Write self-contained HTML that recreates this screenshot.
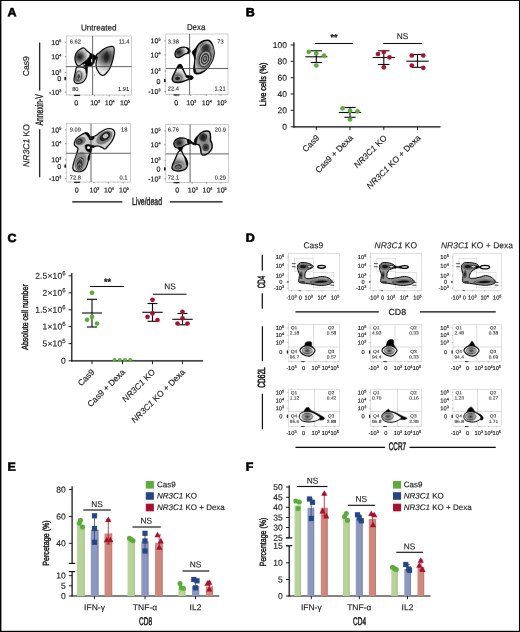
<!DOCTYPE html>
<html lang="en">
<head>
<meta charset="utf-8">
<title>Figure</title>
<style>
html,body{margin:0;padding:0;background:#fff;}
body{width:520px;height:632px;overflow:hidden;position:relative;}
svg{display:block;position:absolute;left:0;top:0;font-family:"Liberation Sans",sans-serif;}
</style>
</head>
<body>
<svg width="520" height="632" viewBox="0 0 520 632">
<rect x="0" y="0" width="520" height="632" fill="#fff"/>
<defs><filter id="soft" x="0" y="0" width="520" height="632" filterUnits="userSpaceOnUse" color-interpolation-filters="sRGB"><feConvolveMatrix order="3" kernelMatrix="0.0009 0.0278 0.0009 0.0278 0.8855 0.0278 0.0009 0.0278 0.0009" divisor="1" edgeMode="duplicate"/></filter></defs>
<g filter="url(#soft)">
<rect x="294.70" y="258.20" width="18.94" height="13.3" fill="none" stroke="#bcbcbc" stroke-width="0.45"/>
<rect x="313.13" y="272.50" width="20.74" height="15.4" fill="none" stroke="#bcbcbc" stroke-width="0.45"/>
<line x1="313.5" y1="324.2" x2="313.5" y2="361.3" stroke="#c2c2c2" stroke-width="0.6"/>
<line x1="288.3" y1="347" x2="339.5" y2="347" stroke="#c2c2c2" stroke-width="0.6"/>
<line x1="314.5" y1="389.2" x2="314.5" y2="426.2" stroke="#c2c2c2" stroke-width="0.6"/>
<line x1="288.3" y1="411.5" x2="339.5" y2="411.5" stroke="#c2c2c2" stroke-width="0.6"/>
<rect x="376.91" y="258.20" width="18.98" height="13.3" fill="none" stroke="#bcbcbc" stroke-width="0.45"/>
<rect x="395.38" y="272.50" width="20.78" height="15.4" fill="none" stroke="#bcbcbc" stroke-width="0.45"/>
<line x1="395" y1="324.2" x2="395" y2="361.3" stroke="#c2c2c2" stroke-width="0.6"/>
<line x1="370.5" y1="347" x2="421.8" y2="347" stroke="#c2c2c2" stroke-width="0.6"/>
<line x1="397.5" y1="389.2" x2="397.5" y2="426.2" stroke="#c2c2c2" stroke-width="0.6"/>
<line x1="370.5" y1="411.5" x2="421.8" y2="411.5" stroke="#c2c2c2" stroke-width="0.6"/>
<rect x="459.04" y="258.20" width="17.87" height="13.3" fill="none" stroke="#bcbcbc" stroke-width="0.45"/>
<rect x="476.43" y="272.50" width="19.56" height="15.4" fill="none" stroke="#bcbcbc" stroke-width="0.45"/>
<line x1="476.8" y1="324.2" x2="476.8" y2="361.3" stroke="#c2c2c2" stroke-width="0.6"/>
<line x1="453" y1="347" x2="501.3" y2="347" stroke="#c2c2c2" stroke-width="0.6"/>
<line x1="477.5" y1="389.2" x2="477.5" y2="426.2" stroke="#c2c2c2" stroke-width="0.6"/>
<line x1="453" y1="411.5" x2="501.3" y2="411.5" stroke="#c2c2c2" stroke-width="0.6"/>
<defs><filter id="bl" x="-5%" y="-5%" width="110%" height="110%"><feGaussianBlur stdDeviation="0.3"/></filter><radialGradient id="g1" gradientUnits="userSpaceOnUse" cx="79.50" cy="56.80" r="9.50"><stop offset="0" stop-color="#141414"/><stop offset="0.25" stop-color="#3c3c3c"/><stop offset="0.5" stop-color="#7c7c7c"/><stop offset="0.75" stop-color="#c0c0c0"/><stop offset="1" stop-color="#ececec"/></radialGradient><radialGradient id="g2" gradientUnits="userSpaceOnUse" cx="106.50" cy="57.00" r="15.00"><stop offset="0" stop-color="#1a1a1a"/><stop offset="0.2" stop-color="#3e3e3e"/><stop offset="0.45" stop-color="#7a7a7a"/><stop offset="0.7" stop-color="#bcbcbc"/><stop offset="1" stop-color="#ebebeb"/></radialGradient><radialGradient id="g3" gradientUnits="userSpaceOnUse" cx="78.50" cy="77.00" r="8.50"><stop offset="0" stop-color="#444"/><stop offset="0.3" stop-color="#7a7a7a"/><stop offset="0.6" stop-color="#b8b8b8"/><stop offset="1" stop-color="#ececec"/></radialGradient><radialGradient id="g4" gradientUnits="userSpaceOnUse" cx="179.00" cy="52.20" r="8.00"><stop offset="0" stop-color="#141414"/><stop offset="0.25" stop-color="#3c3c3c"/><stop offset="0.5" stop-color="#7c7c7c"/><stop offset="0.75" stop-color="#c0c0c0"/><stop offset="1" stop-color="#ececec"/></radialGradient><radialGradient id="g5" gradientUnits="userSpaceOnUse" cx="205.00" cy="58.00" r="20.00"><stop offset="0" stop-color="#505050"/><stop offset="0.3" stop-color="#727272"/><stop offset="0.6" stop-color="#9c9c9c"/><stop offset="1" stop-color="#d4d4d4"/></radialGradient><radialGradient id="g6" gradientUnits="userSpaceOnUse" cx="177.50" cy="78.50" r="9.50"><stop offset="0" stop-color="#141414"/><stop offset="0.2" stop-color="#404040"/><stop offset="0.45" stop-color="#808080"/><stop offset="0.7" stop-color="#c4c4c4"/><stop offset="1" stop-color="#f0f0f0"/></radialGradient><radialGradient id="g7" gradientUnits="userSpaceOnUse" cx="92.00" cy="148.00" r="30.00"><stop offset="0" stop-color="#c4c4c4"/><stop offset="1" stop-color="#dedede"/></radialGradient><radialGradient id="g8" gradientUnits="userSpaceOnUse" cx="179.00" cy="142.70" r="9.00"><stop offset="0" stop-color="#141414"/><stop offset="0.25" stop-color="#3c3c3c"/><stop offset="0.5" stop-color="#7c7c7c"/><stop offset="0.75" stop-color="#c0c0c0"/><stop offset="1" stop-color="#ececec"/></radialGradient><radialGradient id="g9" gradientUnits="userSpaceOnUse" cx="204.50" cy="142.00" r="15.00"><stop offset="0" stop-color="#7c7c7c"/><stop offset="0.4" stop-color="#9c9c9c"/><stop offset="0.8" stop-color="#d2d2d2"/><stop offset="1" stop-color="#eeeeee"/></radialGradient><radialGradient id="g10" gradientUnits="userSpaceOnUse" cx="178.00" cy="166.50" r="12.00"><stop offset="0" stop-color="#202020"/><stop offset="0.2" stop-color="#4a4a4a"/><stop offset="0.45" stop-color="#808080"/><stop offset="0.7" stop-color="#c4c4c4"/><stop offset="1" stop-color="#eeeeee"/></radialGradient><radialGradient id="g11" gradientUnits="userSpaceOnUse" cx="310.77" cy="274.69" r="21.54"><stop offset="0" stop-color="#8c8c8c"/><stop offset="1" stop-color="#a5a5a5"/></radialGradient><radialGradient id="g12" gradientUnits="userSpaceOnUse" cx="392.77" cy="274.69" r="21.54"><stop offset="0" stop-color="#8c8c8c"/><stop offset="1" stop-color="#a5a5a5"/></radialGradient><radialGradient id="g13" gradientUnits="userSpaceOnUse" cx="474.77" cy="274.69" r="21.54"><stop offset="0" stop-color="#8c8c8c"/><stop offset="1" stop-color="#a5a5a5"/></radialGradient><radialGradient id="g14" gradientUnits="userSpaceOnUse" cx="307.31" cy="350.71" r="8.35"><stop offset="0" stop-color="#3a3a3a"/><stop offset="0.3" stop-color="#707070"/><stop offset="0.5" stop-color="#b5b5b5"/><stop offset="0.68" stop-color="#f2f2f2"/><stop offset="1" stop-color="#fff"/></radialGradient><radialGradient id="g15" gradientUnits="userSpaceOnUse" cx="389.31" cy="350.71" r="8.35"><stop offset="0" stop-color="#3a3a3a"/><stop offset="0.3" stop-color="#707070"/><stop offset="0.5" stop-color="#b5b5b5"/><stop offset="0.68" stop-color="#f2f2f2"/><stop offset="1" stop-color="#fff"/></radialGradient><radialGradient id="g16" gradientUnits="userSpaceOnUse" cx="471.31" cy="350.71" r="8.35"><stop offset="0" stop-color="#3a3a3a"/><stop offset="0.3" stop-color="#707070"/><stop offset="0.5" stop-color="#b5b5b5"/><stop offset="0.68" stop-color="#f2f2f2"/><stop offset="1" stop-color="#fff"/></radialGradient><radialGradient id="g17" gradientUnits="userSpaceOnUse" cx="307.31" cy="416.65" r="10.10"><stop offset="0" stop-color="#3a3a3a"/><stop offset="0.25" stop-color="#707070"/><stop offset="0.45" stop-color="#b5b5b5"/><stop offset="0.62" stop-color="#f2f2f2"/><stop offset="1" stop-color="#fff"/></radialGradient><radialGradient id="g18" gradientUnits="userSpaceOnUse" cx="387.96" cy="416.38" r="10.10"><stop offset="0" stop-color="#3a3a3a"/><stop offset="0.25" stop-color="#707070"/><stop offset="0.45" stop-color="#b5b5b5"/><stop offset="0.62" stop-color="#f2f2f2"/><stop offset="1" stop-color="#fff"/></radialGradient><radialGradient id="g19" gradientUnits="userSpaceOnUse" cx="470.63" cy="416.65" r="10.10"><stop offset="0" stop-color="#3a3a3a"/><stop offset="0.25" stop-color="#707070"/><stop offset="0.45" stop-color="#b5b5b5"/><stop offset="0.62" stop-color="#f2f2f2"/><stop offset="1" stop-color="#fff"/></radialGradient></defs>
<g filter="url(#bl)">
<path d="M75.00 57.00C75.17 55.42 75.58 53.83 76.50 52.50C77.42 51.17 79.25 49.75 80.50 49.00C81.75 48.25 83.00 47.75 84.00 48.00C85.00 48.25 85.58 49.67 86.50 50.50C87.42 51.33 88.58 52.25 89.50 53.00C90.42 53.75 91.83 54.00 92.00 55.00C92.17 56.00 91.33 57.92 90.50 59.00C89.67 60.08 88.25 60.80 87.00 61.50C85.75 62.20 84.17 62.53 83.00 63.20C81.83 63.87 80.92 65.12 80.00 65.50C79.08 65.88 78.25 66.08 77.50 65.50C76.75 64.92 75.92 63.42 75.50 62.00C75.08 60.58 74.83 58.58 75.00 57.00Z" fill="url(#g1)" stroke="#000" stroke-width="1.15" stroke-linejoin="round"/>
<path d="M96.50 55.00C96.83 54.08 97.92 53.92 99.00 53.00C100.08 52.08 101.50 50.50 103.00 49.50C104.50 48.50 106.33 47.50 108.00 47.00C109.67 46.50 111.97 46.17 113.00 46.50C114.03 46.83 114.03 47.75 114.20 49.00C114.37 50.25 114.28 52.00 114.00 54.00C113.72 56.00 113.17 58.67 112.50 61.00C111.83 63.33 111.00 66.00 110.00 68.00C109.00 70.00 107.67 71.75 106.50 73.00C105.33 74.25 104.08 75.33 103.00 75.50C101.92 75.67 100.83 74.75 100.00 74.00C99.17 73.25 98.58 72.00 98.00 71.00C97.42 70.00 96.83 69.17 96.50 68.00C96.17 66.83 96.00 65.17 96.00 64.00C96.00 62.83 96.33 61.92 96.50 61.00C96.67 60.08 97.00 59.50 97.00 58.50C97.00 57.50 96.17 55.92 96.50 55.00Z" fill="url(#g2)" stroke="#000" stroke-width="1.15" stroke-linejoin="round"/>
<ellipse cx="106.50" cy="57.00" rx="2.20" ry="6.00" fill="#1a1a1a" opacity="0.55" transform="rotate(5 106.50 57.00)"/>
<path d="M76.50 67.50C77.25 66.75 78.75 66.95 80.00 67.00C81.25 67.05 82.92 67.30 84.00 67.80C85.08 68.30 86.03 68.80 86.50 70.00C86.97 71.20 86.97 73.50 86.80 75.00C86.63 76.50 86.13 77.83 85.50 79.00C84.87 80.17 84.08 81.25 83.00 82.00C81.92 82.75 80.25 83.33 79.00 83.50C77.75 83.67 76.33 83.50 75.50 83.00C74.67 82.50 74.17 81.67 74.00 80.50C73.83 79.33 74.25 77.50 74.50 76.00C74.75 74.50 75.17 72.92 75.50 71.50C75.83 70.08 75.75 68.25 76.50 67.50Z" fill="url(#g3)" stroke="#000" stroke-width="1.15" stroke-linejoin="round"/>
<ellipse cx="78.70" cy="76.00" rx="2.80" ry="5.00" fill="none" stroke="#222" stroke-width="0.6" transform="rotate(5 78.70 76.00)"/>
<ellipse cx="78.70" cy="76.20" rx="1.70" ry="3.40" fill="none" stroke="#eee" stroke-width="0.45" transform="rotate(5 78.70 76.20)"/>
<ellipse cx="78.70" cy="76.50" rx="0.80" ry="1.80" fill="none" stroke="#222" stroke-width="0.55" transform="rotate(5 78.70 76.50)"/>
<ellipse cx="77.50" cy="80.50" rx="2.20" ry="1.80" fill="#555" opacity="0.6" transform="rotate(0 77.50 80.50)"/>
<path d="M83.00 63.50C83.30 62.55 84.97 61.58 86.00 60.50C87.03 59.42 88.45 58.12 89.20 57.00C89.95 55.88 89.70 54.13 90.50 53.80C91.30 53.47 92.80 54.43 94.00 55.00C95.20 55.57 97.28 56.57 97.70 57.20C98.12 57.83 96.95 58.30 96.50 58.80C96.05 59.30 95.45 59.42 95.00 60.20C94.55 60.98 94.43 62.58 93.80 63.50C93.17 64.42 92.22 65.25 91.20 65.70C90.18 66.15 88.45 65.78 87.70 66.20C86.95 66.62 87.28 68.20 86.70 68.20C86.12 68.20 84.82 66.98 84.20 66.20C83.58 65.42 82.70 64.45 83.00 63.50Z" fill="#000" stroke="#000" stroke-width="0.6" stroke-linejoin="round"/>
<ellipse cx="91.70" cy="60.60" rx="0.70" ry="1.90" fill="#fff" opacity="1" transform="rotate(0 91.70 60.60)"/>
<ellipse cx="84.30" cy="64.60" rx="0.90" ry="0.60" fill="#eee" opacity="1" transform="rotate(-35 84.30 64.60)"/>
<path d="M85.50 67.00C85.78 66.25 87.22 65.83 87.50 66.50C87.78 67.17 87.37 69.75 87.20 71.00C87.03 72.25 86.73 74.00 86.50 74.00C86.27 74.00 85.97 72.17 85.80 71.00C85.63 69.83 85.22 67.75 85.50 67.00Z" fill="#000" stroke="#000" stroke-width="0.6" stroke-linejoin="round"/>
<circle cx="94.50" cy="75.00" r="0.45" fill="#000"/>
<path d="M175.00 54.50C175.00 53.42 175.25 51.58 176.00 50.50C176.75 49.42 178.17 48.55 179.50 48.00C180.83 47.45 182.58 47.12 184.00 47.20C185.42 47.28 187.03 47.87 188.00 48.50C188.97 49.13 189.72 50.25 189.80 51.00C189.88 51.75 189.30 52.50 188.50 53.00C187.70 53.50 186.08 53.50 185.00 54.00C183.92 54.50 183.00 55.42 182.00 56.00C181.00 56.58 180.00 57.33 179.00 57.50C178.00 57.67 176.67 57.50 176.00 57.00C175.33 56.50 175.00 55.58 175.00 54.50Z" fill="url(#g4)" stroke="#000" stroke-width="1.3" stroke-linejoin="round"/>
<path d="M186.50 47.80C186.67 47.47 188.58 48.23 189.20 48.80C189.82 49.37 190.27 50.47 190.20 51.20C190.13 51.93 189.30 52.90 188.80 53.20C188.30 53.50 187.30 53.40 187.20 53.00C187.10 52.60 188.32 51.67 188.20 50.80C188.08 49.93 186.33 48.13 186.50 47.80Z" fill="#000" stroke="#000" stroke-width="0.6" stroke-linejoin="round"/>
<path d="M193.00 52.00C193.25 50.92 195.00 49.83 196.00 48.50C197.00 47.17 197.67 45.28 199.00 44.00C200.33 42.72 202.33 41.38 204.00 40.80C205.67 40.22 207.67 39.97 209.00 40.50C210.33 41.03 211.25 42.58 212.00 44.00C212.75 45.42 213.17 47.33 213.50 49.00C213.83 50.67 214.17 52.17 214.00 54.00C213.83 55.83 213.33 58.00 212.50 60.00C211.67 62.00 210.42 64.17 209.00 66.00C207.58 67.83 205.67 69.75 204.00 71.00C202.33 72.25 200.50 73.17 199.00 73.50C197.50 73.83 195.83 73.75 195.00 73.00C194.17 72.25 194.08 70.50 194.00 69.00C193.92 67.50 194.33 65.67 194.50 64.00C194.67 62.33 195.00 60.50 195.00 59.00C195.00 57.50 194.83 56.17 194.50 55.00C194.17 53.83 192.75 53.08 193.00 52.00Z" fill="url(#g5)" stroke="#000" stroke-width="1.6" stroke-linejoin="round"/>
<ellipse cx="205.50" cy="47.50" rx="5.50" ry="5.00" fill="#111" opacity="0.45" transform="rotate(20 205.50 47.50)"/>
<ellipse cx="205.50" cy="47.00" rx="3.20" ry="3.00" fill="#000" opacity="0.45" transform="rotate(20 205.50 47.00)"/>
<ellipse cx="204.50" cy="57.00" rx="8.00" ry="14.50" fill="none" stroke="#f4f4f4" stroke-width="0.5" transform="rotate(20 204.50 57.00)"/>
<ellipse cx="205.00" cy="58.50" rx="5.60" ry="8.80" fill="none" stroke="#111" stroke-width="0.7" transform="rotate(18 205.00 58.50)"/>
<ellipse cx="205.00" cy="58.80" rx="4.50" ry="6.80" fill="none" stroke="#f0f0f0" stroke-width="0.5" transform="rotate(18 205.00 58.80)"/>
<ellipse cx="205.00" cy="59.00" rx="3.50" ry="5.20" fill="none" stroke="#111" stroke-width="0.7" transform="rotate(18 205.00 59.00)"/>
<ellipse cx="205.00" cy="59.00" rx="2.50" ry="3.70" fill="none" stroke="#e5e5e5" stroke-width="0.45" transform="rotate(18 205.00 59.00)"/>
<ellipse cx="205.00" cy="58.80" rx="1.60" ry="2.40" fill="none" stroke="#111" stroke-width="0.6" transform="rotate(18 205.00 58.80)"/>
<ellipse cx="205.00" cy="58.60" rx="0.70" ry="1.10" fill="#666" stroke="#ccc" stroke-width="0.4" transform="rotate(18 205.00 58.60)"/>
<path d="M192.20 52.20C192.32 51.17 193.78 50.42 194.50 49.80C195.22 49.18 196.25 48.13 196.50 48.50C196.75 48.87 196.22 50.83 196.00 52.00C195.78 53.17 195.37 54.25 195.20 55.50C195.03 56.75 195.23 59.42 195.00 59.50C194.77 59.58 194.27 57.22 193.80 56.00C193.33 54.78 192.08 53.23 192.20 52.20Z" fill="#000" stroke="#000" stroke-width="0.6" stroke-linejoin="round"/>
<path d="M194.00 68.00C194.17 67.42 194.87 68.25 195.20 69.00C195.53 69.75 195.37 71.80 196.00 72.50C196.63 73.20 199.00 72.98 199.00 73.20C199.00 73.42 196.80 73.92 196.00 73.80C195.20 73.68 194.53 73.47 194.20 72.50C193.87 71.53 193.83 68.58 194.00 68.00Z" fill="#000" stroke="#000" stroke-width="0.6" stroke-linejoin="round"/>
<path d="M179.00 65.00C179.67 64.50 180.42 64.50 181.00 65.00C181.58 65.50 181.92 66.75 182.50 68.00C183.08 69.25 183.83 71.20 184.50 72.50C185.17 73.80 185.42 75.18 186.50 75.80C187.58 76.42 189.95 75.92 191.00 76.20C192.05 76.48 192.72 77.03 192.80 77.50C192.88 77.97 192.38 78.62 191.50 79.00C190.62 79.38 188.92 79.38 187.50 79.80C186.08 80.22 184.58 81.05 183.00 81.50C181.42 81.95 179.50 82.42 178.00 82.50C176.50 82.58 174.97 82.50 174.00 82.00C173.03 81.50 172.37 80.50 172.20 79.50C172.03 78.50 172.53 77.25 173.00 76.00C173.47 74.75 174.33 73.33 175.00 72.00C175.67 70.67 176.33 69.17 177.00 68.00C177.67 66.83 178.33 65.50 179.00 65.00Z" fill="url(#g6)" stroke="#000" stroke-width="1.4" stroke-linejoin="round"/>
<path d="M177.80 66.50C177.88 65.83 178.43 64.78 179.00 64.50C179.57 64.22 180.62 64.30 181.20 64.80C181.78 65.30 182.12 66.55 182.50 67.50C182.88 68.45 183.58 70.25 183.50 70.50C183.42 70.75 182.58 69.50 182.00 69.00C181.42 68.50 180.58 67.58 180.00 67.50C179.42 67.42 178.87 68.67 178.50 68.50C178.13 68.33 177.72 67.17 177.80 66.50Z" fill="#000" stroke="#000" stroke-width="0.6" stroke-linejoin="round"/>
<path d="M186.00 75.80C186.75 75.55 189.83 75.72 191.00 76.00C192.17 76.28 192.92 76.97 193.00 77.50C193.08 78.03 192.25 79.03 191.50 79.20C190.75 79.37 189.33 78.78 188.50 78.50C187.67 78.22 186.92 77.95 186.50 77.50C186.08 77.05 185.25 76.05 186.00 75.80Z" fill="#000" stroke="#000" stroke-width="0.6" stroke-linejoin="round"/>
<ellipse cx="177.50" cy="78.50" rx="3.20" ry="2.40" fill="none" stroke="#ddd" stroke-width="0.45" transform="rotate(0 177.50 78.50)"/>
<ellipse cx="177.50" cy="78.50" rx="1.80" ry="1.30" fill="none" stroke="#222" stroke-width="0.45" transform="rotate(0 177.50 78.50)"/>
<path d="M74.50 142.50C74.83 141.42 75.42 139.75 76.50 138.50C77.58 137.25 79.50 135.95 81.00 135.00C82.50 134.05 84.33 133.05 85.50 132.80C86.67 132.55 87.33 132.97 88.00 133.50C88.67 134.03 88.83 135.42 89.50 136.00C90.17 136.58 90.92 137.08 92.00 137.00C93.08 136.92 94.67 136.25 96.00 135.50C97.33 134.75 98.50 133.50 100.00 132.50C101.50 131.50 103.33 130.17 105.00 129.50C106.67 128.83 108.58 128.42 110.00 128.50C111.42 128.58 112.70 129.17 113.50 130.00C114.30 130.83 114.80 132.17 114.80 133.50C114.80 134.83 114.13 136.50 113.50 138.00C112.87 139.50 112.00 141.08 111.00 142.50C110.00 143.92 108.50 145.42 107.50 146.50C106.50 147.58 105.92 148.83 105.00 149.00C104.08 149.17 103.17 148.00 102.00 147.50C100.83 147.00 99.33 146.17 98.00 146.00C96.67 145.83 95.08 146.33 94.00 146.50C92.92 146.67 92.03 146.17 91.50 147.00C90.97 147.83 91.13 150.17 90.80 151.50C90.47 152.83 89.88 153.58 89.50 155.00C89.12 156.42 88.92 158.33 88.50 160.00C88.08 161.67 87.58 163.50 87.00 165.00C86.42 166.50 86.00 167.92 85.00 169.00C84.00 170.08 82.42 171.08 81.00 171.50C79.58 171.92 77.75 171.75 76.50 171.50C75.25 171.25 74.12 170.75 73.50 170.00C72.88 169.25 72.72 168.33 72.80 167.00C72.88 165.67 73.47 163.83 74.00 162.00C74.53 160.17 75.42 157.83 76.00 156.00C76.58 154.17 77.17 152.25 77.50 151.00C77.83 149.75 78.25 149.25 78.00 148.50C77.75 147.75 76.58 147.08 76.00 146.50C75.42 145.92 74.75 145.67 74.50 145.00C74.25 144.33 74.17 143.58 74.50 142.50Z" fill="url(#g7)" stroke="#000" stroke-width="1.2" stroke-linejoin="round"/>
<ellipse cx="80.50" cy="141.00" rx="5.50" ry="4.00" fill="#6a6a6a" opacity="0.85" transform="rotate(-25 80.50 141.00)"/>
<ellipse cx="79.40" cy="141.50" rx="3.40" ry="2.60" fill="#1c1c1c" opacity="0.85" transform="rotate(-25 79.40 141.50)"/>
<ellipse cx="78.80" cy="141.80" rx="1.50" ry="1.20" fill="#111" stroke="#e8e8e8" stroke-width="0.45" transform="rotate(0 78.80 141.80)"/>
<ellipse cx="104.50" cy="137.50" rx="9.20" ry="5.60" fill="#6a6a6a" opacity="0.8" transform="rotate(-35 104.50 137.50)"/>
<ellipse cx="105.00" cy="136.50" rx="6.00" ry="3.80" fill="#141414" opacity="0.85" transform="rotate(-35 105.00 136.50)"/>
<ellipse cx="105.50" cy="136.00" rx="2.50" ry="1.70" fill="#b8b8b8" stroke="#f4f4f4" stroke-width="0.6" transform="rotate(-30 105.50 136.00)"/>
<ellipse cx="80.50" cy="161.50" rx="5.80" ry="10.00" fill="#7a7a7a" opacity="0.75" transform="rotate(12 80.50 161.50)"/>
<ellipse cx="79.80" cy="164.00" rx="4.20" ry="7.20" fill="#2a2a2a" opacity="0.75" transform="rotate(12 79.80 164.00)"/>
<ellipse cx="79.70" cy="164.50" rx="3.40" ry="5.80" fill="none" stroke="#f0f0f0" stroke-width="0.5" transform="rotate(10 79.70 164.50)"/>
<ellipse cx="79.60" cy="165.50" rx="2.40" ry="4.00" fill="none" stroke="#111" stroke-width="0.5" transform="rotate(8 79.60 165.50)"/>
<ellipse cx="79.50" cy="166.20" rx="1.50" ry="2.40" fill="none" stroke="#e5e5e5" stroke-width="0.45" transform="rotate(5 79.50 166.20)"/>
<ellipse cx="79.40" cy="166.80" rx="0.70" ry="1.00" fill="none" stroke="#111" stroke-width="0.45" transform="rotate(0 79.40 166.80)"/>
<path d="M85.00 132.80C85.25 132.50 87.20 132.67 88.00 133.20C88.80 133.73 89.13 135.33 89.80 136.00C90.47 136.67 91.27 137.07 92.00 137.20C92.73 137.33 93.95 136.50 94.20 136.80C94.45 137.10 93.95 138.47 93.50 139.00C93.05 139.53 92.17 139.92 91.50 140.00C90.83 140.08 90.00 140.00 89.50 139.50C89.00 139.00 89.00 137.75 88.50 137.00C88.00 136.25 87.08 135.70 86.50 135.00C85.92 134.30 84.75 133.10 85.00 132.80Z" fill="#000" stroke="#000" stroke-width="0.6" stroke-linejoin="round"/>
<path d="M85.20 145.50C85.53 144.67 86.95 144.55 88.00 144.50C89.05 144.45 90.42 144.95 91.50 145.20C92.58 145.45 94.08 145.62 94.50 146.00C94.92 146.38 94.45 147.20 94.00 147.50C93.55 147.80 92.20 147.30 91.80 147.80C91.40 148.30 91.87 149.77 91.60 150.50C91.33 151.23 90.80 152.03 90.20 152.20C89.60 152.37 88.70 151.95 88.00 151.50C87.30 151.05 86.47 150.50 86.00 149.50C85.53 148.50 84.87 146.33 85.20 145.50Z" fill="#000" stroke="#000" stroke-width="0.6" stroke-linejoin="round"/>
<ellipse cx="88.50" cy="147.70" rx="1.50" ry="1.40" fill="#fff" opacity="1" transform="rotate(0 88.50 147.70)"/>
<path d="M88.50 156.00C88.83 155.25 89.63 154.00 89.80 154.50C89.97 155.00 89.72 157.92 89.50 159.00C89.28 160.08 88.78 161.00 88.50 161.00C88.22 161.00 87.80 159.83 87.80 159.00C87.80 158.17 88.17 156.75 88.50 156.00Z" fill="#000" stroke="#000" stroke-width="0.6" stroke-linejoin="round"/>
<path d="M174.00 142.50C174.30 141.50 175.00 140.25 176.00 139.50C177.00 138.75 178.67 138.22 180.00 138.00C181.33 137.78 182.75 137.95 184.00 138.20C185.25 138.45 186.42 139.03 187.50 139.50C188.58 139.97 189.92 140.50 190.50 141.00C191.08 141.50 191.33 142.00 191.00 142.50C190.67 143.00 189.42 143.58 188.50 144.00C187.58 144.42 186.50 144.50 185.50 145.00C184.50 145.50 183.50 146.47 182.50 147.00C181.50 147.53 180.58 148.12 179.50 148.20C178.42 148.28 176.88 147.95 176.00 147.50C175.12 147.05 174.53 146.33 174.20 145.50C173.87 144.67 173.70 143.50 174.00 142.50Z" fill="url(#g8)" stroke="#000" stroke-width="1.3" stroke-linejoin="round"/>
<path d="M187.50 139.50C188.00 139.22 189.58 140.30 190.50 140.80C191.42 141.30 192.08 142.05 193.00 142.50C193.92 142.95 195.50 143.08 196.00 143.50C196.50 143.92 196.50 144.83 196.00 145.00C195.50 145.17 193.83 144.80 193.00 144.50C192.17 144.20 191.75 143.25 191.00 143.20C190.25 143.15 189.08 144.32 188.50 144.20C187.92 144.08 187.67 143.28 187.50 142.50C187.33 141.72 187.00 139.78 187.50 139.50Z" fill="#000" stroke="#000" stroke-width="0.6" stroke-linejoin="round"/>
<path d="M195.50 139.00C196.00 138.08 197.00 137.08 198.00 136.00C199.00 134.92 200.17 133.33 201.50 132.50C202.83 131.67 204.67 131.08 206.00 131.00C207.33 130.92 208.75 131.17 209.50 132.00C210.25 132.83 210.33 134.67 210.50 136.00C210.67 137.33 210.25 138.67 210.50 140.00C210.75 141.33 211.78 142.58 212.00 144.00C212.22 145.42 212.22 147.17 211.80 148.50C211.38 149.83 210.47 151.00 209.50 152.00C208.53 153.00 207.17 154.00 206.00 154.50C204.83 155.00 203.33 155.33 202.50 155.00C201.67 154.67 201.33 153.58 201.00 152.50C200.67 151.42 200.83 149.75 200.50 148.50C200.17 147.25 199.75 145.75 199.00 145.00C198.25 144.25 196.67 144.58 196.00 144.00C195.33 143.42 195.08 142.33 195.00 141.50C194.92 140.67 195.00 139.92 195.50 139.00Z" fill="url(#g9)" stroke="#000" stroke-width="1.4" stroke-linejoin="round"/>
<ellipse cx="203.20" cy="137.20" rx="4.00" ry="4.20" fill="#1e1e1e" opacity="0.75" transform="rotate(20 203.20 137.20)"/>
<ellipse cx="203.20" cy="137.20" rx="2.20" ry="2.40" fill="#111" opacity="0.6" transform="rotate(20 203.20 137.20)"/>
<ellipse cx="205.80" cy="147.50" rx="3.40" ry="3.80" fill="#222" opacity="0.7" transform="rotate(0 205.80 147.50)"/>
<ellipse cx="205.80" cy="147.50" rx="1.60" ry="1.80" fill="#111" opacity="0.6" transform="rotate(0 205.80 147.50)"/>
<path d="M194.80 139.50C195.08 138.62 196.00 137.78 196.50 137.20C197.00 136.62 197.68 135.70 197.80 136.00C197.92 136.30 197.42 138.00 197.20 139.00C196.98 140.00 196.73 141.13 196.50 142.00C196.27 142.87 196.08 144.12 195.80 144.20C195.52 144.28 194.97 143.28 194.80 142.50C194.63 141.72 194.52 140.38 194.80 139.50Z" fill="#000" stroke="#000" stroke-width="0.6" stroke-linejoin="round"/>
<path d="M178.20 148.00C178.78 147.53 181.87 146.87 182.50 147.20C183.13 147.53 182.25 149.23 182.00 150.00C181.75 150.77 181.37 151.50 181.00 151.80C180.63 152.10 180.13 152.10 179.80 151.80C179.47 151.50 179.27 150.63 179.00 150.00C178.73 149.37 177.62 148.47 178.20 148.00Z" fill="#000" stroke="#000" stroke-width="0.6" stroke-linejoin="round"/>
<path d="M179.50 151.00C180.08 150.75 180.83 150.33 181.50 151.00C182.17 151.67 182.75 153.67 183.50 155.00C184.25 156.33 185.33 157.67 186.00 159.00C186.67 160.33 187.33 161.67 187.50 163.00C187.67 164.33 187.58 165.83 187.00 167.00C186.42 168.17 185.33 169.33 184.00 170.00C182.67 170.67 180.58 170.92 179.00 171.00C177.42 171.08 175.67 170.92 174.50 170.50C173.33 170.08 172.33 169.42 172.00 168.50C171.67 167.58 172.08 166.33 172.50 165.00C172.92 163.67 173.83 162.00 174.50 160.50C175.17 159.00 175.92 157.33 176.50 156.00C177.08 154.67 177.50 153.33 178.00 152.50C178.50 151.67 178.92 151.25 179.50 151.00Z" fill="url(#g10)" stroke="#000" stroke-width="1.3" stroke-linejoin="round"/>
<path d="M184.50 156.00C184.72 155.92 185.95 157.83 186.50 159.00C187.05 160.17 187.68 161.83 187.80 163.00C187.92 164.17 187.50 166.00 187.20 166.00C186.90 166.00 186.33 164.08 186.00 163.00C185.67 161.92 185.45 160.67 185.20 159.50C184.95 158.33 184.28 156.08 184.50 156.00Z" fill="#000" stroke="#000" stroke-width="0.6" stroke-linejoin="round"/>
<ellipse cx="178.50" cy="166.80" rx="4.50" ry="3.00" fill="none" stroke="#eee" stroke-width="0.5" transform="rotate(-8 178.50 166.80)"/>
<ellipse cx="178.20" cy="167.00" rx="3.00" ry="2.00" fill="none" stroke="#222" stroke-width="0.5" transform="rotate(-8 178.20 167.00)"/>
<ellipse cx="178.00" cy="167.20" rx="1.60" ry="1.00" fill="none" stroke="#ddd" stroke-width="0.45" transform="rotate(-8 178.00 167.20)"/>
<path d="M297.52 266.08C297.77 265.11 298.37 264.08 299.14 263.49C299.91 262.90 300.75 262.59 302.15 262.52C303.55 262.45 306.01 262.72 307.54 263.06C309.06 263.40 310.34 263.98 311.31 264.57C312.28 265.16 313.35 265.99 313.35 266.62C313.35 267.24 312.28 267.82 311.31 268.34C310.34 268.86 308.49 269.13 307.54 269.74C306.59 270.35 306.05 271.08 305.60 272.00C305.15 272.92 304.88 274.24 304.85 275.23C304.81 276.22 304.67 277.35 305.38 277.92C306.10 278.50 307.90 278.64 309.15 278.68C310.41 278.71 311.58 278.35 312.92 278.14C314.27 277.92 315.97 277.64 317.23 277.38C318.49 277.13 319.29 276.76 320.46 276.63C321.63 276.51 322.97 276.45 324.23 276.63C325.49 276.81 326.87 277.21 328.00 277.71C329.13 278.21 330.30 278.98 331.02 279.65C331.73 280.31 332.40 281.03 332.31 281.69C332.22 282.36 331.37 283.11 330.48 283.63C329.58 284.15 328.41 284.51 326.92 284.82C325.43 285.12 323.33 285.43 321.54 285.46C319.74 285.50 317.95 285.26 316.15 285.03C314.36 284.80 312.56 284.35 310.77 284.06C308.97 283.77 307.05 283.51 305.38 283.31C303.72 283.11 301.87 283.16 300.75 282.88C299.64 282.59 298.99 282.32 298.71 281.58C298.42 280.85 298.91 279.52 299.03 278.46C299.16 277.40 299.52 276.31 299.46 275.23C299.41 274.15 299.01 272.99 298.71 272.00C298.40 271.01 297.83 270.29 297.63 269.31C297.43 268.32 297.27 267.05 297.52 266.08Z" fill="url(#g11)" stroke="#000" stroke-width="1.0" stroke-linejoin="round"/>
<ellipse cx="303.02" cy="266.62" rx="5.17" ry="3.23" fill="#3a3a3a" opacity="0.85" transform="rotate(0 303.02 266.62)"/>
<ellipse cx="303.02" cy="266.62" rx="2.80" ry="1.62" fill="#111" opacity="0.9" transform="rotate(0 303.02 266.62)"/>
<ellipse cx="303.02" cy="266.62" rx="4.09" ry="2.48" fill="none" stroke="#ddd" stroke-width="0.35" transform="rotate(0 303.02 266.62)"/>
<ellipse cx="301.08" cy="275.23" rx="1.51" ry="3.88" fill="#444" opacity="0.85" transform="rotate(0 301.08 275.23)"/>
<ellipse cx="301.08" cy="275.23" rx="0.65" ry="1.72" fill="#111" opacity="0.9" transform="rotate(0 301.08 275.23)"/>
<ellipse cx="321.00" cy="281.69" rx="11.31" ry="2.58" fill="#444" opacity="0.85" transform="rotate(-3 321.00 281.69)"/>
<ellipse cx="321.00" cy="281.69" rx="5.92" ry="1.08" fill="#0a0a0a" opacity="0.9" transform="rotate(-3 321.00 281.69)"/>
<ellipse cx="321.00" cy="281.69" rx="9.15" ry="1.94" fill="none" stroke="#ddd" stroke-width="0.35" transform="rotate(-3 321.00 281.69)"/>
<ellipse cx="302.15" cy="282.02" rx="3.02" ry="0.97" fill="#222" opacity="0.8" transform="rotate(0 302.15 282.02)"/>
<ellipse cx="309.48" cy="266.62" rx="2.37" ry="1.40" fill="#d8d8d8" stroke="#000" stroke-width="0.8" transform="rotate(0 309.48 266.62)"/>
<ellipse cx="321.54" cy="266.83" rx="3.88" ry="1.40" fill="#f2f2f2" stroke="#000" stroke-width="1.3" transform="rotate(0 321.54 266.83)"/>
<rect x="291.92" y="263.21" width="3.8" height="0.9" fill="#333"/>
<rect x="291.92" y="266.33" width="3.8" height="0.9" fill="#333"/>
<rect x="330.37" y="281.95" width="3.8" height="0.9" fill="#333"/>
<rect x="330.37" y="284.75" width="3.8" height="0.9" fill="#333"/>
<rect x="287.34" y="281.01" width="1.2" height="1.8" fill="#000"/>
<rect x="298.78" y="290.13" width="2.0" height="0.9" fill="#000"/>
<path d="M379.52 266.08C379.77 265.11 380.37 264.08 381.14 263.49C381.91 262.90 382.75 262.59 384.15 262.52C385.55 262.45 388.01 262.72 389.54 263.06C391.06 263.40 392.34 263.98 393.31 264.57C394.28 265.16 395.35 265.99 395.35 266.62C395.35 267.24 394.28 267.82 393.31 268.34C392.34 268.86 390.49 269.13 389.54 269.74C388.59 270.35 388.05 271.08 387.60 272.00C387.15 272.92 386.88 274.24 386.85 275.23C386.81 276.22 386.67 277.35 387.38 277.92C388.10 278.50 389.90 278.64 391.15 278.68C392.41 278.71 393.58 278.35 394.92 278.14C396.27 277.92 397.97 277.64 399.23 277.38C400.49 277.13 401.29 276.76 402.46 276.63C403.63 276.51 404.97 276.45 406.23 276.63C407.49 276.81 408.87 277.21 410.00 277.71C411.13 278.21 412.30 278.98 413.02 279.65C413.73 280.31 414.40 281.03 414.31 281.69C414.22 282.36 413.37 283.11 412.48 283.63C411.58 284.15 410.41 284.51 408.92 284.82C407.43 285.12 405.33 285.43 403.54 285.46C401.74 285.50 399.95 285.26 398.15 285.03C396.36 284.80 394.56 284.35 392.77 284.06C390.97 283.77 389.05 283.51 387.38 283.31C385.72 283.11 383.87 283.16 382.75 282.88C381.64 282.59 380.99 282.32 380.71 281.58C380.42 280.85 380.91 279.52 381.03 278.46C381.16 277.40 381.52 276.31 381.46 275.23C381.41 274.15 381.01 272.99 380.71 272.00C380.40 271.01 379.83 270.29 379.63 269.31C379.43 268.32 379.27 267.05 379.52 266.08Z" fill="url(#g12)" stroke="#000" stroke-width="1.0" stroke-linejoin="round"/>
<ellipse cx="385.02" cy="266.62" rx="5.17" ry="3.23" fill="#3a3a3a" opacity="0.85" transform="rotate(0 385.02 266.62)"/>
<ellipse cx="385.02" cy="266.62" rx="2.80" ry="1.62" fill="#111" opacity="0.9" transform="rotate(0 385.02 266.62)"/>
<ellipse cx="385.02" cy="266.62" rx="4.09" ry="2.48" fill="none" stroke="#ddd" stroke-width="0.35" transform="rotate(0 385.02 266.62)"/>
<ellipse cx="383.08" cy="275.23" rx="1.51" ry="3.88" fill="#444" opacity="0.85" transform="rotate(0 383.08 275.23)"/>
<ellipse cx="383.08" cy="275.23" rx="0.65" ry="1.72" fill="#111" opacity="0.9" transform="rotate(0 383.08 275.23)"/>
<ellipse cx="403.00" cy="281.69" rx="11.31" ry="2.58" fill="#444" opacity="0.85" transform="rotate(-3 403.00 281.69)"/>
<ellipse cx="403.00" cy="281.69" rx="5.92" ry="1.08" fill="#0a0a0a" opacity="0.9" transform="rotate(-3 403.00 281.69)"/>
<ellipse cx="403.00" cy="281.69" rx="9.15" ry="1.94" fill="none" stroke="#ddd" stroke-width="0.35" transform="rotate(-3 403.00 281.69)"/>
<ellipse cx="384.15" cy="282.02" rx="3.02" ry="0.97" fill="#222" opacity="0.8" transform="rotate(0 384.15 282.02)"/>
<ellipse cx="391.48" cy="266.62" rx="2.37" ry="1.40" fill="#d8d8d8" stroke="#000" stroke-width="0.8" transform="rotate(0 391.48 266.62)"/>
<path d="M394.38 265.86C394.92 265.59 396.54 266.58 397.62 266.62C398.69 266.65 400.18 265.99 400.85 266.08C401.51 266.17 401.60 266.79 401.60 267.15C401.60 267.51 401.51 268.14 400.85 268.23C400.18 268.32 398.69 267.69 397.62 267.69C396.54 267.69 394.92 268.54 394.38 268.23C393.85 267.93 393.85 266.13 394.38 265.86Z" fill="#000" stroke="#000" stroke-width="0.6" stroke-linejoin="round"/>
<ellipse cx="404.62" cy="266.94" rx="3.66" ry="1.40" fill="#ededed" stroke="#000" stroke-width="1.3" transform="rotate(0 404.62 266.94)"/>
<rect x="373.92" y="263.21" width="3.8" height="0.9" fill="#333"/>
<rect x="373.92" y="266.33" width="3.8" height="0.9" fill="#333"/>
<rect x="412.37" y="281.95" width="3.8" height="0.9" fill="#333"/>
<rect x="412.37" y="284.75" width="3.8" height="0.9" fill="#333"/>
<rect x="369.34" y="281.01" width="1.2" height="1.8" fill="#000"/>
<rect x="380.78" y="290.13" width="2.0" height="0.9" fill="#000"/>
<path d="M461.52 266.08C461.77 265.11 462.37 264.08 463.14 263.49C463.91 262.90 464.66 262.63 466.15 262.52C467.64 262.42 470.37 262.61 472.08 262.85C473.78 263.08 475.29 263.38 476.38 263.92C477.48 264.46 478.56 265.38 478.65 266.08C478.74 266.78 477.84 267.46 476.92 268.12C476.01 268.79 474.19 269.33 473.15 270.06C472.11 270.80 471.27 271.62 470.68 272.54C470.08 273.45 469.78 274.66 469.60 275.55C469.42 276.45 469.01 277.46 469.60 277.92C470.19 278.39 471.93 278.35 473.15 278.35C474.37 278.35 475.58 278.17 476.92 277.92C478.27 277.67 479.79 277.24 481.23 276.85C482.67 276.45 484.19 275.64 485.54 275.55C486.88 275.46 488.14 275.88 489.31 276.31C490.47 276.74 491.68 277.51 492.54 278.14C493.40 278.77 493.97 279.43 494.48 280.08C494.98 280.72 495.64 281.42 495.55 282.02C495.46 282.61 494.80 283.16 493.94 283.63C493.08 284.10 491.78 284.55 490.38 284.82C488.98 285.08 487.24 285.23 485.54 285.25C483.83 285.26 481.95 285.12 480.15 284.92C478.36 284.73 476.56 284.33 474.77 284.06C472.97 283.79 471.05 283.51 469.38 283.31C467.72 283.11 465.87 283.16 464.75 282.88C463.64 282.59 463.05 282.32 462.71 281.58C462.37 280.85 462.65 279.52 462.71 278.46C462.76 277.40 463.08 276.31 463.03 275.23C462.98 274.15 462.62 272.99 462.38 272.00C462.15 271.01 461.77 270.29 461.63 269.31C461.49 268.32 461.27 267.05 461.52 266.08Z" fill="url(#g13)" stroke="#000" stroke-width="1.0" stroke-linejoin="round"/>
<ellipse cx="467.77" cy="266.62" rx="5.17" ry="3.23" fill="#3a3a3a" opacity="0.85" transform="rotate(0 467.77 266.62)"/>
<ellipse cx="467.77" cy="266.62" rx="2.80" ry="1.62" fill="#111" opacity="0.9" transform="rotate(0 467.77 266.62)"/>
<ellipse cx="467.77" cy="266.62" rx="4.09" ry="2.48" fill="none" stroke="#ddd" stroke-width="0.35" transform="rotate(0 467.77 266.62)"/>
<ellipse cx="465.08" cy="274.15" rx="1.51" ry="3.88" fill="#444" opacity="0.85" transform="rotate(0 465.08 274.15)"/>
<ellipse cx="465.08" cy="274.15" rx="0.65" ry="1.72" fill="#111" opacity="0.9" transform="rotate(0 465.08 274.15)"/>
<ellipse cx="484.46" cy="281.91" rx="11.31" ry="2.58" fill="#444" opacity="0.85" transform="rotate(-3 484.46 281.91)"/>
<ellipse cx="484.46" cy="281.91" rx="5.92" ry="1.08" fill="#0a0a0a" opacity="0.9" transform="rotate(-3 484.46 281.91)"/>
<ellipse cx="484.46" cy="281.91" rx="9.15" ry="1.94" fill="none" stroke="#ddd" stroke-width="0.35" transform="rotate(-3 484.46 281.91)"/>
<ellipse cx="466.15" cy="282.02" rx="3.02" ry="0.97" fill="#222" opacity="0.8" transform="rotate(0 466.15 282.02)"/>
<ellipse cx="473.48" cy="266.62" rx="2.37" ry="1.40" fill="#d8d8d8" stroke="#000" stroke-width="0.8" transform="rotate(0 473.48 266.62)"/>
<path d="M476.38 265.86C476.92 265.59 478.54 266.58 479.62 266.62C480.69 266.65 482.18 265.99 482.85 266.08C483.51 266.17 483.60 266.79 483.60 267.15C483.60 267.51 483.51 268.14 482.85 268.23C482.18 268.32 480.69 267.69 479.62 267.69C478.54 267.69 476.92 268.54 476.38 268.23C475.85 267.93 475.85 266.13 476.38 265.86Z" fill="#000" stroke="#000" stroke-width="0.6" stroke-linejoin="round"/>
<ellipse cx="485.00" cy="267.15" rx="4.52" ry="1.72" fill="#ededed" stroke="#000" stroke-width="1.3" transform="rotate(0 485.00 267.15)"/>
<rect x="456.14" y="263.21" width="3.8" height="0.9" fill="#333"/>
<rect x="456.14" y="266.33" width="3.8" height="0.9" fill="#333"/>
<rect x="494.58" y="281.95" width="3.8" height="0.9" fill="#333"/>
<rect x="494.58" y="284.75" width="3.8" height="0.9" fill="#333"/>
<rect x="451.34" y="281.01" width="1.2" height="1.8" fill="#000"/>
<rect x="462.78" y="290.13" width="2.0" height="0.9" fill="#000"/>
<path d="M304.88 345.60C304.84 344.70 305.06 343.15 305.69 342.50C306.32 341.85 307.71 341.74 308.65 341.69C309.60 341.65 310.85 341.58 311.35 342.23C311.84 342.88 311.39 344.65 311.62 345.60C311.84 346.54 313.63 347.50 312.69 347.88C311.75 348.27 307.26 348.27 305.96 347.88C304.66 347.50 304.93 346.49 304.88 345.60Z" fill="#000" stroke="#000" stroke-width="0.6" stroke-linejoin="round"/>
<path d="M299.90 350.31C300.06 349.25 301.36 347.73 302.60 346.94C303.83 346.16 305.74 345.60 307.31 345.60C308.88 345.60 310.72 346.16 312.02 346.94C313.32 347.73 315.00 349.12 315.12 350.31C315.23 351.50 313.66 353.11 312.69 354.08C311.73 355.04 310.56 355.87 309.33 356.10C308.09 356.32 306.57 355.89 305.29 355.42C304.01 354.95 302.55 354.12 301.65 353.27C300.76 352.42 299.75 351.36 299.90 350.31Z" fill="url(#g14)" stroke="#000" stroke-width="1.1" stroke-linejoin="round"/>
<ellipse cx="307.31" cy="350.71" rx="5.12" ry="2.96" fill="none" stroke="#222" stroke-width="0.5" transform="rotate(0 307.31 350.71)"/>
<ellipse cx="307.31" cy="350.71" rx="3.37" ry="1.75" fill="none" stroke="#ccc" stroke-width="0.4" transform="rotate(0 307.31 350.71)"/>
<path d="M386.35 346.27C386.30 345.08 386.97 342.28 387.69 341.15C388.41 340.03 389.71 339.70 390.65 339.54C391.60 339.38 392.85 339.43 393.35 340.21C393.84 341.00 393.35 342.97 393.62 344.25C393.88 345.53 395.90 347.21 394.96 347.88C394.02 348.56 389.40 348.56 387.96 348.29C386.53 348.02 386.39 347.46 386.35 346.27Z" fill="#000" stroke="#000" stroke-width="0.6" stroke-linejoin="round"/>
<path d="M381.90 350.31C382.06 349.25 383.36 347.73 384.60 346.94C385.83 346.16 387.74 345.60 389.31 345.60C390.88 345.60 392.72 346.16 394.02 346.94C395.32 347.73 397.00 349.12 397.12 350.31C397.23 351.50 395.66 353.11 394.69 354.08C393.73 355.04 392.56 355.87 391.33 356.10C390.09 356.32 388.57 355.89 387.29 355.42C386.01 354.95 384.55 354.12 383.65 353.27C382.76 352.42 381.75 351.36 381.90 350.31Z" fill="url(#g15)" stroke="#000" stroke-width="1.1" stroke-linejoin="round"/>
<ellipse cx="389.31" cy="350.71" rx="5.12" ry="2.96" fill="none" stroke="#222" stroke-width="0.5" transform="rotate(0 389.31 350.71)"/>
<ellipse cx="389.31" cy="350.71" rx="3.37" ry="1.75" fill="none" stroke="#ccc" stroke-width="0.4" transform="rotate(0 389.31 350.71)"/>
<path d="M467.94 346.94C468.17 345.98 469.96 343.87 470.63 342.90C471.31 341.94 471.46 341.09 471.98 341.15C472.50 341.22 473.17 342.34 473.73 343.31C474.29 344.27 474.74 346.04 475.35 346.94C475.95 347.84 478.38 348.40 477.37 348.69C476.36 348.98 470.86 348.98 469.29 348.69C467.72 348.40 467.72 347.91 467.94 346.94Z" fill="#000" stroke="#000" stroke-width="0.6" stroke-linejoin="round"/>
<path d="M463.90 350.31C464.06 349.25 465.36 347.73 466.60 346.94C467.83 346.16 469.74 345.60 471.31 345.60C472.88 345.60 474.72 346.16 476.02 346.94C477.32 347.73 479.00 349.12 479.12 350.31C479.23 351.50 477.66 353.11 476.69 354.08C475.73 355.04 474.56 355.87 473.33 356.10C472.09 356.32 470.57 355.89 469.29 355.42C468.01 354.95 466.55 354.12 465.65 353.27C464.76 352.42 463.75 351.36 463.90 350.31Z" fill="url(#g16)" stroke="#000" stroke-width="1.1" stroke-linejoin="round"/>
<ellipse cx="471.31" cy="350.71" rx="5.12" ry="2.96" fill="none" stroke="#222" stroke-width="0.5" transform="rotate(0 471.31 350.71)"/>
<ellipse cx="471.31" cy="350.71" rx="3.37" ry="1.75" fill="none" stroke="#ccc" stroke-width="0.4" transform="rotate(0 471.31 350.71)"/>
<path d="M304.35 411.54C303.72 410.64 305.47 408.55 306.23 407.90C306.99 407.25 308.25 407.30 308.92 407.63C309.60 407.97 309.42 409.21 310.27 409.92C311.12 410.64 312.51 411.16 314.04 411.94C315.56 412.73 317.81 413.74 319.42 414.63C321.04 415.53 322.92 416.59 323.73 417.33C324.54 418.07 324.76 418.63 324.27 419.08C323.78 419.53 322.25 420.15 320.77 420.02C319.29 419.88 317.18 419.39 315.38 418.27C313.59 417.15 311.84 414.41 310.00 413.29C308.16 412.17 304.97 412.44 304.35 411.54Z" fill="#000" stroke="#000" stroke-width="0.6" stroke-linejoin="round"/>
<path d="M299.23 415.98C299.46 415.02 300.13 413.67 301.25 412.88C302.37 412.10 304.28 411.43 305.96 411.27C307.64 411.11 309.55 411.38 311.35 411.94C313.14 412.50 315.27 413.74 316.73 414.63C318.19 415.53 319.76 416.50 320.10 417.33C320.43 418.16 319.76 418.94 318.75 419.62C317.74 420.29 315.83 420.96 314.04 421.37C312.24 421.77 309.89 422.11 307.98 422.04C306.07 421.97 303.94 421.52 302.60 420.96C301.25 420.40 300.46 419.50 299.90 418.67C299.34 417.84 299.01 416.95 299.23 415.98Z" fill="url(#g17)" stroke="#000" stroke-width="1.0" stroke-linejoin="round"/>
<ellipse cx="307.31" cy="416.65" rx="5.38" ry="3.23" fill="none" stroke="#222" stroke-width="0.5" transform="rotate(0 307.31 416.65)"/>
<ellipse cx="307.31" cy="416.65" rx="3.50" ry="1.88" fill="none" stroke="#ccc" stroke-width="0.4" transform="rotate(0 307.31 416.65)"/>
<path d="M385.94 412.35C385.31 411.67 387.45 409.43 388.23 409.25C389.02 409.07 389.35 410.66 390.65 411.27C391.96 411.88 394.13 412.10 396.04 412.88C397.95 413.67 400.26 415.08 402.10 415.98C403.94 416.88 406.96 417.66 407.08 418.27C407.19 418.88 404.38 419.62 402.77 419.62C401.15 419.62 399.18 419.32 397.38 418.27C395.59 417.21 393.91 414.28 392.00 413.29C390.09 412.30 386.57 413.02 385.94 412.35Z" fill="#000" stroke="#000" stroke-width="0.6" stroke-linejoin="round"/>
<path d="M381.90 415.98C382.13 415.02 382.64 413.62 383.65 412.88C384.66 412.14 386.39 411.63 387.96 411.54C389.53 411.45 391.39 411.76 393.08 412.35C394.76 412.93 396.67 414.14 398.06 415.04C399.45 415.94 401.31 416.90 401.42 417.73C401.54 418.56 399.85 419.35 398.73 420.02C397.61 420.69 396.26 421.39 394.69 421.77C393.12 422.15 390.99 422.44 389.31 422.31C387.62 422.17 385.76 421.57 384.60 420.96C383.43 420.36 382.76 419.50 382.31 418.67C381.86 417.84 381.68 416.95 381.90 415.98Z" fill="url(#g18)" stroke="#000" stroke-width="1.0" stroke-linejoin="round"/>
<ellipse cx="387.96" cy="416.38" rx="5.38" ry="3.23" fill="none" stroke="#222" stroke-width="0.5" transform="rotate(0 387.96 416.38)"/>
<ellipse cx="387.96" cy="416.38" rx="3.50" ry="1.88" fill="none" stroke="#ccc" stroke-width="0.4" transform="rotate(0 387.96 416.38)"/>
<path d="M467.54 411.94C466.75 411.04 468.62 408.69 469.29 407.90C469.96 407.12 470.90 407.01 471.58 407.23C472.25 407.46 472.70 408.46 473.33 409.25C473.96 410.04 474.11 411.04 475.35 411.94C476.58 412.84 479.43 413.67 480.73 414.63C482.03 415.60 482.97 416.83 483.15 417.73C483.33 418.63 482.66 419.93 481.81 420.02C480.96 420.11 479.34 419.39 478.04 418.27C476.74 417.15 475.75 414.34 474.00 413.29C472.25 412.23 468.32 412.84 467.54 411.94Z" fill="#000" stroke="#000" stroke-width="0.6" stroke-linejoin="round"/>
<path d="M463.90 415.98C464.13 415.02 464.64 413.62 465.65 412.88C466.66 412.14 468.39 411.63 469.96 411.54C471.53 411.45 473.55 411.76 475.08 412.35C476.60 412.93 478.13 414.14 479.12 415.04C480.10 415.94 481.00 416.90 481.00 417.73C481.00 418.56 480.06 419.35 479.12 420.02C478.17 420.69 476.65 421.43 475.35 421.77C474.04 422.11 472.77 422.17 471.31 422.04C469.85 421.90 467.76 421.52 466.60 420.96C465.43 420.40 464.76 419.50 464.31 418.67C463.86 417.84 463.68 416.95 463.90 415.98Z" fill="url(#g19)" stroke="#000" stroke-width="1.0" stroke-linejoin="round"/>
<ellipse cx="470.63" cy="416.65" rx="5.38" ry="3.23" fill="none" stroke="#222" stroke-width="0.5" transform="rotate(0 470.63 416.65)"/>
<ellipse cx="470.63" cy="416.65" rx="3.50" ry="1.88" fill="none" stroke="#ccc" stroke-width="0.4" transform="rotate(0 470.63 416.65)"/>
</g>
<rect x="66.20" y="36.00" width="65.40" height="59.00" fill="none" stroke="#a0a0a0" stroke-width="0.55"/>
<line x1="92.6" y1="36.0" x2="92.6" y2="95.0" stroke="#3a3a3a" stroke-width="1" opacity="0.8"/>
<line x1="66.2" y1="66.6" x2="131.6" y2="66.6" stroke="#3a3a3a" stroke-width="1" opacity="0.8"/>
<line x1="64.80" y1="42.40" x2="66.20" y2="42.40" stroke="#444" stroke-width="0.6"/>
<line x1="64.80" y1="56.70" x2="66.20" y2="56.70" stroke="#444" stroke-width="0.6"/>
<line x1="64.80" y1="72.60" x2="66.20" y2="72.60" stroke="#444" stroke-width="0.6"/>
<line x1="64.80" y1="78.50" x2="66.20" y2="78.50" stroke="#444" stroke-width="0.6"/>
<line x1="64.80" y1="92.20" x2="66.20" y2="92.20" stroke="#444" stroke-width="0.6"/>
<line x1="65.40" y1="46.03" x2="66.20" y2="46.03" stroke="#777" stroke-width="0.4"/>
<line x1="65.40" y1="48.98" x2="66.20" y2="48.98" stroke="#777" stroke-width="0.4"/>
<line x1="65.40" y1="51.93" x2="66.20" y2="51.93" stroke="#777" stroke-width="0.4"/>
<line x1="65.40" y1="60.78" x2="66.20" y2="60.78" stroke="#777" stroke-width="0.4"/>
<line x1="65.40" y1="63.73" x2="66.20" y2="63.73" stroke="#777" stroke-width="0.4"/>
<line x1="65.40" y1="66.68" x2="66.20" y2="66.68" stroke="#777" stroke-width="0.4"/>
<line x1="65.40" y1="76.12" x2="66.20" y2="76.12" stroke="#777" stroke-width="0.4"/>
<line x1="65.40" y1="86.15" x2="66.20" y2="86.15" stroke="#777" stroke-width="0.4"/>
<line x1="75.70" y1="95.00" x2="75.70" y2="96.40" stroke="#444" stroke-width="0.6"/>
<line x1="94.50" y1="95.00" x2="94.50" y2="96.40" stroke="#444" stroke-width="0.6"/>
<line x1="109.10" y1="95.00" x2="109.10" y2="96.40" stroke="#444" stroke-width="0.6"/>
<line x1="124.30" y1="95.00" x2="124.30" y2="96.40" stroke="#444" stroke-width="0.6"/>
<line x1="70.12" y1="95.00" x2="70.12" y2="95.80" stroke="#777" stroke-width="0.4"/>
<line x1="85.82" y1="95.00" x2="85.82" y2="95.80" stroke="#777" stroke-width="0.4"/>
<line x1="89.74" y1="95.00" x2="89.74" y2="95.80" stroke="#777" stroke-width="0.4"/>
<line x1="98.90" y1="95.00" x2="98.90" y2="95.80" stroke="#777" stroke-width="0.4"/>
<line x1="102.82" y1="95.00" x2="102.82" y2="95.80" stroke="#777" stroke-width="0.4"/>
<line x1="106.75" y1="95.00" x2="106.75" y2="95.80" stroke="#777" stroke-width="0.4"/>
<line x1="114.60" y1="95.00" x2="114.60" y2="95.80" stroke="#777" stroke-width="0.4"/>
<line x1="118.52" y1="95.00" x2="118.52" y2="95.80" stroke="#777" stroke-width="0.4"/>
<line x1="122.44" y1="95.00" x2="122.44" y2="95.80" stroke="#777" stroke-width="0.4"/>
<line x1="128.33" y1="95.00" x2="128.33" y2="95.80" stroke="#777" stroke-width="0.4"/>
<rect x="64.50" y="77.00" width="1.40" height="3.20" fill="#000" stroke="none"/>
<rect x="74.10" y="94.80" width="6.00" height="1.10" fill="#000" stroke="none"/>
<rect x="165.80" y="34.00" width="62.20" height="60.60" fill="none" stroke="#a0a0a0" stroke-width="0.55"/>
<line x1="189.6" y1="34.0" x2="189.6" y2="94.6" stroke="#3a3a3a" stroke-width="1" opacity="0.8"/>
<line x1="165.8" y1="68.5" x2="228" y2="68.5" stroke="#3a3a3a" stroke-width="1" opacity="0.8"/>
<line x1="164.40" y1="40.80" x2="165.80" y2="40.80" stroke="#444" stroke-width="0.6"/>
<line x1="164.40" y1="54.90" x2="165.80" y2="54.90" stroke="#444" stroke-width="0.6"/>
<line x1="164.40" y1="71.10" x2="165.80" y2="71.10" stroke="#444" stroke-width="0.6"/>
<line x1="164.40" y1="81.40" x2="165.80" y2="81.40" stroke="#444" stroke-width="0.6"/>
<line x1="164.40" y1="91.50" x2="165.80" y2="91.50" stroke="#444" stroke-width="0.6"/>
<line x1="165.00" y1="44.30" x2="165.80" y2="44.30" stroke="#777" stroke-width="0.4"/>
<line x1="165.00" y1="47.33" x2="165.80" y2="47.33" stroke="#777" stroke-width="0.4"/>
<line x1="165.00" y1="50.36" x2="165.80" y2="50.36" stroke="#777" stroke-width="0.4"/>
<line x1="165.00" y1="59.45" x2="165.80" y2="59.45" stroke="#777" stroke-width="0.4"/>
<line x1="165.00" y1="62.48" x2="165.80" y2="62.48" stroke="#777" stroke-width="0.4"/>
<line x1="165.00" y1="65.51" x2="165.80" y2="65.51" stroke="#777" stroke-width="0.4"/>
<line x1="165.00" y1="75.21" x2="165.80" y2="75.21" stroke="#777" stroke-width="0.4"/>
<line x1="165.00" y1="85.51" x2="165.80" y2="85.51" stroke="#777" stroke-width="0.4"/>
<line x1="175.70" y1="94.60" x2="175.70" y2="96.00" stroke="#444" stroke-width="0.6"/>
<line x1="190.70" y1="94.60" x2="190.70" y2="96.00" stroke="#444" stroke-width="0.6"/>
<line x1="206.20" y1="94.60" x2="206.20" y2="96.00" stroke="#444" stroke-width="0.6"/>
<line x1="221.00" y1="94.60" x2="221.00" y2="96.00" stroke="#444" stroke-width="0.6"/>
<line x1="169.53" y1="94.60" x2="169.53" y2="95.40" stroke="#777" stroke-width="0.4"/>
<line x1="184.46" y1="94.60" x2="184.46" y2="95.40" stroke="#777" stroke-width="0.4"/>
<line x1="188.19" y1="94.60" x2="188.19" y2="95.40" stroke="#777" stroke-width="0.4"/>
<line x1="196.90" y1="94.60" x2="196.90" y2="95.40" stroke="#777" stroke-width="0.4"/>
<line x1="200.63" y1="94.60" x2="200.63" y2="95.40" stroke="#777" stroke-width="0.4"/>
<line x1="204.36" y1="94.60" x2="204.36" y2="95.40" stroke="#777" stroke-width="0.4"/>
<line x1="211.83" y1="94.60" x2="211.83" y2="95.40" stroke="#777" stroke-width="0.4"/>
<line x1="215.56" y1="94.60" x2="215.56" y2="95.40" stroke="#777" stroke-width="0.4"/>
<line x1="219.29" y1="94.60" x2="219.29" y2="95.40" stroke="#777" stroke-width="0.4"/>
<line x1="224.89" y1="94.60" x2="224.89" y2="95.40" stroke="#777" stroke-width="0.4"/>
<rect x="164.10" y="79.00" width="1.40" height="3.20" fill="#000" stroke="none"/>
<rect x="173.50" y="94.40" width="6.00" height="1.10" fill="#000" stroke="none"/>
<rect x="66.20" y="123.70" width="64.40" height="58.30" fill="none" stroke="#a0a0a0" stroke-width="0.55"/>
<line x1="91" y1="123.7" x2="91" y2="182.0" stroke="#3a3a3a" stroke-width="1" opacity="0.8"/>
<line x1="66.2" y1="153.3" x2="130.6" y2="153.3" stroke="#3a3a3a" stroke-width="1" opacity="0.8"/>
<line x1="64.80" y1="129.90" x2="66.20" y2="129.90" stroke="#444" stroke-width="0.6"/>
<line x1="64.80" y1="143.70" x2="66.20" y2="143.70" stroke="#444" stroke-width="0.6"/>
<line x1="64.80" y1="159.80" x2="66.20" y2="159.80" stroke="#444" stroke-width="0.6"/>
<line x1="64.80" y1="166.50" x2="66.20" y2="166.50" stroke="#444" stroke-width="0.6"/>
<line x1="64.80" y1="178.60" x2="66.20" y2="178.60" stroke="#444" stroke-width="0.6"/>
<line x1="65.40" y1="133.61" x2="66.20" y2="133.61" stroke="#777" stroke-width="0.4"/>
<line x1="65.40" y1="136.53" x2="66.20" y2="136.53" stroke="#777" stroke-width="0.4"/>
<line x1="65.40" y1="139.44" x2="66.20" y2="139.44" stroke="#777" stroke-width="0.4"/>
<line x1="65.40" y1="148.19" x2="66.20" y2="148.19" stroke="#777" stroke-width="0.4"/>
<line x1="65.40" y1="151.10" x2="66.20" y2="151.10" stroke="#777" stroke-width="0.4"/>
<line x1="65.40" y1="154.02" x2="66.20" y2="154.02" stroke="#777" stroke-width="0.4"/>
<line x1="65.40" y1="163.34" x2="66.20" y2="163.34" stroke="#777" stroke-width="0.4"/>
<line x1="65.40" y1="173.25" x2="66.20" y2="173.25" stroke="#777" stroke-width="0.4"/>
<line x1="76.20" y1="182.00" x2="76.20" y2="183.40" stroke="#444" stroke-width="0.6"/>
<line x1="93.80" y1="182.00" x2="93.80" y2="183.40" stroke="#444" stroke-width="0.6"/>
<line x1="108.30" y1="182.00" x2="108.30" y2="183.40" stroke="#444" stroke-width="0.6"/>
<line x1="123.30" y1="182.00" x2="123.30" y2="183.40" stroke="#444" stroke-width="0.6"/>
<line x1="70.06" y1="182.00" x2="70.06" y2="182.80" stroke="#777" stroke-width="0.4"/>
<line x1="85.52" y1="182.00" x2="85.52" y2="182.80" stroke="#777" stroke-width="0.4"/>
<line x1="89.38" y1="182.00" x2="89.38" y2="182.80" stroke="#777" stroke-width="0.4"/>
<line x1="98.40" y1="182.00" x2="98.40" y2="182.80" stroke="#777" stroke-width="0.4"/>
<line x1="102.26" y1="182.00" x2="102.26" y2="182.80" stroke="#777" stroke-width="0.4"/>
<line x1="106.13" y1="182.00" x2="106.13" y2="182.80" stroke="#777" stroke-width="0.4"/>
<line x1="113.86" y1="182.00" x2="113.86" y2="182.80" stroke="#777" stroke-width="0.4"/>
<line x1="117.72" y1="182.00" x2="117.72" y2="182.80" stroke="#777" stroke-width="0.4"/>
<line x1="121.58" y1="182.00" x2="121.58" y2="182.80" stroke="#777" stroke-width="0.4"/>
<line x1="127.38" y1="182.00" x2="127.38" y2="182.80" stroke="#777" stroke-width="0.4"/>
<rect x="64.50" y="164.50" width="1.40" height="3.20" fill="#000" stroke="none"/>
<rect x="74.10" y="181.80" width="6.00" height="1.10" fill="#000" stroke="none"/>
<rect x="165.80" y="124.50" width="62.90" height="57.80" fill="none" stroke="#a0a0a0" stroke-width="0.55"/>
<line x1="190.1" y1="124.5" x2="190.1" y2="182.3" stroke="#3a3a3a" stroke-width="1" opacity="0.8"/>
<line x1="165.8" y1="153.9" x2="228.7" y2="153.9" stroke="#3a3a3a" stroke-width="1" opacity="0.8"/>
<line x1="164.40" y1="130.80" x2="165.80" y2="130.80" stroke="#444" stroke-width="0.6"/>
<line x1="164.40" y1="144.70" x2="165.80" y2="144.70" stroke="#444" stroke-width="0.6"/>
<line x1="164.40" y1="160.30" x2="165.80" y2="160.30" stroke="#444" stroke-width="0.6"/>
<line x1="164.40" y1="168.90" x2="165.80" y2="168.90" stroke="#444" stroke-width="0.6"/>
<line x1="164.40" y1="178.90" x2="165.80" y2="178.90" stroke="#444" stroke-width="0.6"/>
<line x1="165.00" y1="134.33" x2="165.80" y2="134.33" stroke="#777" stroke-width="0.4"/>
<line x1="165.00" y1="137.22" x2="165.80" y2="137.22" stroke="#777" stroke-width="0.4"/>
<line x1="165.00" y1="140.11" x2="165.80" y2="140.11" stroke="#777" stroke-width="0.4"/>
<line x1="165.00" y1="148.78" x2="165.80" y2="148.78" stroke="#777" stroke-width="0.4"/>
<line x1="165.00" y1="151.67" x2="165.80" y2="151.67" stroke="#777" stroke-width="0.4"/>
<line x1="165.00" y1="154.56" x2="165.80" y2="154.56" stroke="#777" stroke-width="0.4"/>
<line x1="165.00" y1="163.80" x2="165.80" y2="163.80" stroke="#777" stroke-width="0.4"/>
<line x1="165.00" y1="173.63" x2="165.80" y2="173.63" stroke="#777" stroke-width="0.4"/>
<line x1="176.70" y1="182.30" x2="176.70" y2="183.70" stroke="#444" stroke-width="0.6"/>
<line x1="192.20" y1="182.30" x2="192.20" y2="183.70" stroke="#444" stroke-width="0.6"/>
<line x1="206.80" y1="182.30" x2="206.80" y2="183.70" stroke="#444" stroke-width="0.6"/>
<line x1="221.10" y1="182.30" x2="221.10" y2="183.70" stroke="#444" stroke-width="0.6"/>
<line x1="169.57" y1="182.30" x2="169.57" y2="183.10" stroke="#777" stroke-width="0.4"/>
<line x1="184.67" y1="182.30" x2="184.67" y2="183.10" stroke="#777" stroke-width="0.4"/>
<line x1="188.44" y1="182.30" x2="188.44" y2="183.10" stroke="#777" stroke-width="0.4"/>
<line x1="197.25" y1="182.30" x2="197.25" y2="183.10" stroke="#777" stroke-width="0.4"/>
<line x1="201.02" y1="182.30" x2="201.02" y2="183.10" stroke="#777" stroke-width="0.4"/>
<line x1="204.80" y1="182.30" x2="204.80" y2="183.10" stroke="#777" stroke-width="0.4"/>
<line x1="212.35" y1="182.30" x2="212.35" y2="183.10" stroke="#777" stroke-width="0.4"/>
<line x1="216.12" y1="182.30" x2="216.12" y2="183.10" stroke="#777" stroke-width="0.4"/>
<line x1="219.89" y1="182.30" x2="219.89" y2="183.10" stroke="#777" stroke-width="0.4"/>
<line x1="225.55" y1="182.30" x2="225.55" y2="183.10" stroke="#777" stroke-width="0.4"/>
<rect x="164.10" y="167.30" width="1.40" height="3.20" fill="#000" stroke="none"/>
<rect x="173.50" y="182.10" width="6.00" height="1.10" fill="#000" stroke="none"/>
<line x1="39.70" y1="42.50" x2="39.70" y2="90.60" stroke="#000" stroke-width="1.15"/>
<line x1="39.70" y1="129.20" x2="39.70" y2="177.20" stroke="#000" stroke-width="1.15"/>
<line x1="72.20" y1="201.90" x2="122.30" y2="201.90" stroke="#000" stroke-width="1.35"/>
<line x1="170.00" y1="201.90" x2="222.60" y2="201.90" stroke="#000" stroke-width="1.35"/>
<line x1="293.90" y1="42.30" x2="293.90" y2="127.40" stroke="#000" stroke-width="1.2"/>
<line x1="293.30" y1="126.80" x2="440.50" y2="126.80" stroke="#000" stroke-width="1.2"/>
<line x1="290.70" y1="45.00" x2="293.90" y2="45.00" stroke="#1a1a1a" stroke-width="1.0"/>
<line x1="290.70" y1="61.30" x2="293.90" y2="61.30" stroke="#1a1a1a" stroke-width="1.0"/>
<line x1="290.70" y1="77.70" x2="293.90" y2="77.70" stroke="#1a1a1a" stroke-width="1.0"/>
<line x1="290.70" y1="94.00" x2="293.90" y2="94.00" stroke="#1a1a1a" stroke-width="1.0"/>
<line x1="290.70" y1="110.30" x2="293.90" y2="110.30" stroke="#1a1a1a" stroke-width="1.0"/>
<line x1="290.70" y1="126.80" x2="293.90" y2="126.80" stroke="#1a1a1a" stroke-width="1.0"/>
<line x1="316.30" y1="126.80" x2="316.30" y2="130.20" stroke="#1a1a1a" stroke-width="1.0"/>
<line x1="350.00" y1="126.80" x2="350.00" y2="130.20" stroke="#1a1a1a" stroke-width="1.0"/>
<line x1="383.80" y1="126.80" x2="383.80" y2="130.20" stroke="#1a1a1a" stroke-width="1.0"/>
<line x1="417.50" y1="126.80" x2="417.50" y2="130.20" stroke="#1a1a1a" stroke-width="1.0"/>
<line x1="305.30" y1="56.80" x2="327.30" y2="56.80" stroke="#000" stroke-width="1.1"/>
<line x1="316.30" y1="50.80" x2="316.30" y2="62.50" stroke="#000" stroke-width="1.1"/>
<line x1="310.70" y1="50.80" x2="321.90" y2="50.80" stroke="#000" stroke-width="1.1"/>
<line x1="310.70" y1="62.50" x2="321.90" y2="62.50" stroke="#000" stroke-width="1.1"/>
<circle cx="308.80" cy="51.80" r="2.35" fill="#5bab3b" stroke="none"/>
<circle cx="316.30" cy="53.50" r="2.35" fill="#5bab3b" stroke="none"/>
<circle cx="324.00" cy="55.50" r="2.35" fill="#5bab3b" stroke="none"/>
<circle cx="316.30" cy="65.50" r="2.35" fill="#5bab3b" stroke="none"/>
<line x1="338.80" y1="112.50" x2="361.20" y2="112.50" stroke="#000" stroke-width="1.1"/>
<line x1="350.00" y1="107.50" x2="350.00" y2="117.30" stroke="#000" stroke-width="1.1"/>
<line x1="344.40" y1="107.50" x2="355.60" y2="107.50" stroke="#000" stroke-width="1.1"/>
<line x1="344.40" y1="117.30" x2="355.60" y2="117.30" stroke="#000" stroke-width="1.1"/>
<circle cx="342.50" cy="108.30" r="2.35" fill="#5bab3b" stroke="none"/>
<circle cx="350.00" cy="110.80" r="2.35" fill="#5bab3b" stroke="none"/>
<circle cx="357.50" cy="111.30" r="2.35" fill="#5bab3b" stroke="none"/>
<circle cx="350.00" cy="119.50" r="2.35" fill="#5bab3b" stroke="none"/>
<line x1="372.60" y1="57.50" x2="395.00" y2="57.50" stroke="#000" stroke-width="1.1"/>
<line x1="383.80" y1="50.80" x2="383.80" y2="64.50" stroke="#000" stroke-width="1.1"/>
<line x1="378.10" y1="50.80" x2="389.50" y2="50.80" stroke="#000" stroke-width="1.1"/>
<line x1="378.10" y1="64.50" x2="389.50" y2="64.50" stroke="#000" stroke-width="1.1"/>
<circle cx="378.00" cy="54.00" r="2.35" fill="#a70f2e" stroke="none"/>
<circle cx="383.80" cy="52.00" r="2.35" fill="#a70f2e" stroke="none"/>
<circle cx="389.50" cy="57.30" r="2.35" fill="#a70f2e" stroke="none"/>
<circle cx="383.80" cy="67.30" r="2.35" fill="#a70f2e" stroke="none"/>
<line x1="406.30" y1="61.20" x2="428.70" y2="61.20" stroke="#000" stroke-width="1.1"/>
<line x1="417.50" y1="54.50" x2="417.50" y2="67.30" stroke="#000" stroke-width="1.1"/>
<line x1="411.80" y1="54.50" x2="423.20" y2="54.50" stroke="#000" stroke-width="1.1"/>
<line x1="411.80" y1="67.30" x2="423.20" y2="67.30" stroke="#000" stroke-width="1.1"/>
<circle cx="411.80" cy="55.50" r="2.35" fill="#a70f2e" stroke="none"/>
<circle cx="423.30" cy="55.50" r="2.35" fill="#a70f2e" stroke="none"/>
<circle cx="411.80" cy="65.50" r="2.35" fill="#a70f2e" stroke="none"/>
<circle cx="423.30" cy="67.80" r="2.35" fill="#a70f2e" stroke="none"/>
<line x1="315.00" y1="43.50" x2="353.00" y2="43.50" stroke="#000" stroke-width="1.1"/>
<line x1="383.30" y1="43.50" x2="422.00" y2="43.50" stroke="#000" stroke-width="1.1"/>
<line x1="71.80" y1="273.00" x2="71.80" y2="361.40" stroke="#000" stroke-width="1.2"/>
<line x1="71.20" y1="360.80" x2="203.00" y2="360.80" stroke="#000" stroke-width="1.2"/>
<line x1="68.60" y1="275.80" x2="71.80" y2="275.80" stroke="#1a1a1a" stroke-width="1.0"/>
<line x1="68.60" y1="292.80" x2="71.80" y2="292.80" stroke="#1a1a1a" stroke-width="1.0"/>
<line x1="68.60" y1="309.80" x2="71.80" y2="309.80" stroke="#1a1a1a" stroke-width="1.0"/>
<line x1="68.60" y1="326.60" x2="71.80" y2="326.60" stroke="#1a1a1a" stroke-width="1.0"/>
<line x1="68.60" y1="343.60" x2="71.80" y2="343.60" stroke="#1a1a1a" stroke-width="1.0"/>
<line x1="68.60" y1="360.80" x2="71.80" y2="360.80" stroke="#1a1a1a" stroke-width="1.0"/>
<line x1="92.00" y1="360.80" x2="92.00" y2="364.20" stroke="#1a1a1a" stroke-width="1.0"/>
<line x1="122.50" y1="360.80" x2="122.50" y2="364.20" stroke="#1a1a1a" stroke-width="1.0"/>
<line x1="152.50" y1="360.80" x2="152.50" y2="364.20" stroke="#1a1a1a" stroke-width="1.0"/>
<line x1="182.50" y1="360.80" x2="182.50" y2="364.20" stroke="#1a1a1a" stroke-width="1.0"/>
<line x1="82.00" y1="313.00" x2="102.00" y2="313.00" stroke="#000" stroke-width="1.1"/>
<line x1="92.00" y1="299.30" x2="92.00" y2="327.00" stroke="#000" stroke-width="1.1"/>
<line x1="87.00" y1="299.30" x2="97.00" y2="299.30" stroke="#000" stroke-width="1.1"/>
<line x1="87.00" y1="327.00" x2="97.00" y2="327.00" stroke="#000" stroke-width="1.1"/>
<circle cx="92.00" cy="292.80" r="2.35" fill="#5bab3b" stroke="none"/>
<circle cx="92.00" cy="316.80" r="2.35" fill="#5bab3b" stroke="none"/>
<circle cx="87.00" cy="319.80" r="2.35" fill="#5bab3b" stroke="none"/>
<circle cx="97.00" cy="323.50" r="2.35" fill="#5bab3b" stroke="none"/>
<circle cx="114.50" cy="359.80" r="1.9" fill="#5bab3b" stroke="none"/>
<circle cx="119.80" cy="359.80" r="1.9" fill="#5bab3b" stroke="none"/>
<circle cx="125.00" cy="359.80" r="1.9" fill="#5bab3b" stroke="none"/>
<circle cx="130.20" cy="359.80" r="1.9" fill="#5bab3b" stroke="none"/>
<line x1="142.30" y1="312.30" x2="162.70" y2="312.30" stroke="#000" stroke-width="1.1"/>
<line x1="152.50" y1="303.50" x2="152.50" y2="321.30" stroke="#000" stroke-width="1.1"/>
<line x1="147.50" y1="303.50" x2="157.50" y2="303.50" stroke="#000" stroke-width="1.1"/>
<line x1="147.50" y1="321.30" x2="157.50" y2="321.30" stroke="#000" stroke-width="1.1"/>
<circle cx="152.50" cy="299.80" r="2.35" fill="#a70f2e" stroke="none"/>
<circle cx="152.50" cy="313.30" r="2.35" fill="#a70f2e" stroke="none"/>
<circle cx="147.50" cy="316.80" r="2.35" fill="#a70f2e" stroke="none"/>
<circle cx="157.50" cy="320.00" r="2.35" fill="#a70f2e" stroke="none"/>
<line x1="172.30" y1="319.30" x2="192.70" y2="319.30" stroke="#000" stroke-width="1.1"/>
<line x1="182.50" y1="313.50" x2="182.50" y2="324.80" stroke="#000" stroke-width="1.1"/>
<line x1="177.50" y1="313.50" x2="187.50" y2="313.50" stroke="#000" stroke-width="1.1"/>
<line x1="177.50" y1="324.80" x2="187.50" y2="324.80" stroke="#000" stroke-width="1.1"/>
<circle cx="182.50" cy="311.80" r="2.35" fill="#a70f2e" stroke="none"/>
<circle cx="182.50" cy="318.30" r="2.35" fill="#a70f2e" stroke="none"/>
<circle cx="177.50" cy="323.50" r="2.35" fill="#a70f2e" stroke="none"/>
<circle cx="187.50" cy="323.50" r="2.35" fill="#a70f2e" stroke="none"/>
<line x1="90.00" y1="286.50" x2="123.80" y2="286.50" stroke="#000" stroke-width="1.1"/>
<line x1="153.00" y1="294.30" x2="186.50" y2="294.30" stroke="#000" stroke-width="1.1"/>
<rect x="288.30" y="253.20" width="51.20" height="37.30" fill="none" stroke="#bdbdbd" stroke-width="0.5"/>
<line x1="287.20" y1="257.00" x2="288.30" y2="257.00" stroke="#666" stroke-width="0.5"/>
<line x1="287.20" y1="265.80" x2="288.30" y2="265.80" stroke="#666" stroke-width="0.5"/>
<line x1="287.20" y1="275.80" x2="288.30" y2="275.80" stroke="#666" stroke-width="0.5"/>
<line x1="287.20" y1="281.80" x2="288.30" y2="281.80" stroke="#666" stroke-width="0.5"/>
<line x1="287.20" y1="288.20" x2="288.30" y2="288.20" stroke="#666" stroke-width="0.5"/>
<line x1="291.37" y1="290.50" x2="291.37" y2="291.50" stroke="#666" stroke-width="0.5"/>
<line x1="300.33" y1="290.50" x2="300.33" y2="291.50" stroke="#666" stroke-width="0.5"/>
<line x1="308.78" y1="290.50" x2="308.78" y2="291.50" stroke="#666" stroke-width="0.5"/>
<line x1="321.84" y1="290.50" x2="321.84" y2="291.50" stroke="#666" stroke-width="0.5"/>
<line x1="335.15" y1="290.50" x2="335.15" y2="291.50" stroke="#666" stroke-width="0.5"/>
<rect x="288.30" y="324.20" width="51.20" height="37.10" fill="none" stroke="#bdbdbd" stroke-width="0.5"/>
<rect x="286.80" y="350.40" width="1.20" height="3.20" fill="#111" stroke="none"/>
<rect x="301.14" y="361.20" width="3.40" height="0.90" fill="#111" stroke="none"/>
<line x1="287.20" y1="328.00" x2="288.30" y2="328.00" stroke="#666" stroke-width="0.5"/>
<line x1="287.20" y1="335.20" x2="288.30" y2="335.20" stroke="#666" stroke-width="0.5"/>
<line x1="287.20" y1="342.60" x2="288.30" y2="342.60" stroke="#666" stroke-width="0.5"/>
<line x1="287.20" y1="352.00" x2="288.30" y2="352.00" stroke="#666" stroke-width="0.5"/>
<line x1="291.37" y1="361.30" x2="291.37" y2="362.30" stroke="#666" stroke-width="0.5"/>
<line x1="303.66" y1="361.30" x2="303.66" y2="362.30" stroke="#666" stroke-width="0.5"/>
<line x1="315.69" y1="361.30" x2="315.69" y2="362.30" stroke="#666" stroke-width="0.5"/>
<line x1="325.93" y1="361.30" x2="325.93" y2="362.30" stroke="#666" stroke-width="0.5"/>
<line x1="334.64" y1="361.30" x2="334.64" y2="362.30" stroke="#666" stroke-width="0.5"/>
<rect x="288.30" y="389.20" width="51.20" height="37.00" fill="none" stroke="#bdbdbd" stroke-width="0.5"/>
<rect x="286.80" y="414.70" width="1.20" height="3.20" fill="#111" stroke="none"/>
<rect x="301.14" y="426.10" width="3.40" height="0.90" fill="#111" stroke="none"/>
<line x1="287.20" y1="392.50" x2="288.30" y2="392.50" stroke="#666" stroke-width="0.5"/>
<line x1="287.20" y1="400.50" x2="288.30" y2="400.50" stroke="#666" stroke-width="0.5"/>
<line x1="287.20" y1="408.30" x2="288.30" y2="408.30" stroke="#666" stroke-width="0.5"/>
<line x1="287.20" y1="416.30" x2="288.30" y2="416.30" stroke="#666" stroke-width="0.5"/>
<line x1="291.37" y1="426.20" x2="291.37" y2="427.20" stroke="#666" stroke-width="0.5"/>
<line x1="303.66" y1="426.20" x2="303.66" y2="427.20" stroke="#666" stroke-width="0.5"/>
<line x1="315.69" y1="426.20" x2="315.69" y2="427.20" stroke="#666" stroke-width="0.5"/>
<line x1="325.93" y1="426.20" x2="325.93" y2="427.20" stroke="#666" stroke-width="0.5"/>
<line x1="334.64" y1="426.20" x2="334.64" y2="427.20" stroke="#666" stroke-width="0.5"/>
<rect x="370.50" y="253.20" width="51.30" height="37.30" fill="none" stroke="#bdbdbd" stroke-width="0.5"/>
<line x1="369.40" y1="257.00" x2="370.50" y2="257.00" stroke="#666" stroke-width="0.5"/>
<line x1="369.40" y1="265.80" x2="370.50" y2="265.80" stroke="#666" stroke-width="0.5"/>
<line x1="369.40" y1="275.80" x2="370.50" y2="275.80" stroke="#666" stroke-width="0.5"/>
<line x1="369.40" y1="281.80" x2="370.50" y2="281.80" stroke="#666" stroke-width="0.5"/>
<line x1="369.40" y1="288.20" x2="370.50" y2="288.20" stroke="#666" stroke-width="0.5"/>
<line x1="373.58" y1="290.50" x2="373.58" y2="291.50" stroke="#666" stroke-width="0.5"/>
<line x1="382.56" y1="290.50" x2="382.56" y2="291.50" stroke="#666" stroke-width="0.5"/>
<line x1="391.02" y1="290.50" x2="391.02" y2="291.50" stroke="#666" stroke-width="0.5"/>
<line x1="404.10" y1="290.50" x2="404.10" y2="291.50" stroke="#666" stroke-width="0.5"/>
<line x1="417.44" y1="290.50" x2="417.44" y2="291.50" stroke="#666" stroke-width="0.5"/>
<rect x="370.50" y="324.20" width="51.30" height="37.10" fill="none" stroke="#bdbdbd" stroke-width="0.5"/>
<rect x="369.00" y="350.40" width="1.20" height="3.20" fill="#111" stroke="none"/>
<rect x="383.36" y="361.20" width="3.40" height="0.90" fill="#111" stroke="none"/>
<line x1="369.40" y1="328.00" x2="370.50" y2="328.00" stroke="#666" stroke-width="0.5"/>
<line x1="369.40" y1="335.20" x2="370.50" y2="335.20" stroke="#666" stroke-width="0.5"/>
<line x1="369.40" y1="342.60" x2="370.50" y2="342.60" stroke="#666" stroke-width="0.5"/>
<line x1="369.40" y1="352.00" x2="370.50" y2="352.00" stroke="#666" stroke-width="0.5"/>
<line x1="373.58" y1="361.30" x2="373.58" y2="362.30" stroke="#666" stroke-width="0.5"/>
<line x1="385.89" y1="361.30" x2="385.89" y2="362.30" stroke="#666" stroke-width="0.5"/>
<line x1="397.95" y1="361.30" x2="397.95" y2="362.30" stroke="#666" stroke-width="0.5"/>
<line x1="408.21" y1="361.30" x2="408.21" y2="362.30" stroke="#666" stroke-width="0.5"/>
<line x1="416.93" y1="361.30" x2="416.93" y2="362.30" stroke="#666" stroke-width="0.5"/>
<rect x="370.50" y="389.20" width="51.30" height="37.00" fill="none" stroke="#bdbdbd" stroke-width="0.5"/>
<rect x="369.00" y="414.70" width="1.20" height="3.20" fill="#111" stroke="none"/>
<rect x="383.36" y="426.10" width="3.40" height="0.90" fill="#111" stroke="none"/>
<line x1="369.40" y1="392.50" x2="370.50" y2="392.50" stroke="#666" stroke-width="0.5"/>
<line x1="369.40" y1="400.50" x2="370.50" y2="400.50" stroke="#666" stroke-width="0.5"/>
<line x1="369.40" y1="408.30" x2="370.50" y2="408.30" stroke="#666" stroke-width="0.5"/>
<line x1="369.40" y1="416.30" x2="370.50" y2="416.30" stroke="#666" stroke-width="0.5"/>
<line x1="373.58" y1="426.20" x2="373.58" y2="427.20" stroke="#666" stroke-width="0.5"/>
<line x1="385.89" y1="426.20" x2="385.89" y2="427.20" stroke="#666" stroke-width="0.5"/>
<line x1="397.95" y1="426.20" x2="397.95" y2="427.20" stroke="#666" stroke-width="0.5"/>
<line x1="408.21" y1="426.20" x2="408.21" y2="427.20" stroke="#666" stroke-width="0.5"/>
<line x1="416.93" y1="426.20" x2="416.93" y2="427.20" stroke="#666" stroke-width="0.5"/>
<rect x="453.00" y="253.20" width="48.30" height="37.30" fill="none" stroke="#bdbdbd" stroke-width="0.5"/>
<line x1="451.90" y1="257.00" x2="453.00" y2="257.00" stroke="#666" stroke-width="0.5"/>
<line x1="451.90" y1="265.80" x2="453.00" y2="265.80" stroke="#666" stroke-width="0.5"/>
<line x1="451.90" y1="275.80" x2="453.00" y2="275.80" stroke="#666" stroke-width="0.5"/>
<line x1="451.90" y1="281.80" x2="453.00" y2="281.80" stroke="#666" stroke-width="0.5"/>
<line x1="451.90" y1="288.20" x2="453.00" y2="288.20" stroke="#666" stroke-width="0.5"/>
<line x1="455.90" y1="290.50" x2="455.90" y2="291.50" stroke="#666" stroke-width="0.5"/>
<line x1="464.35" y1="290.50" x2="464.35" y2="291.50" stroke="#666" stroke-width="0.5"/>
<line x1="472.32" y1="290.50" x2="472.32" y2="291.50" stroke="#666" stroke-width="0.5"/>
<line x1="484.64" y1="290.50" x2="484.64" y2="291.50" stroke="#666" stroke-width="0.5"/>
<line x1="497.19" y1="290.50" x2="497.19" y2="291.50" stroke="#666" stroke-width="0.5"/>
<rect x="453.00" y="324.20" width="48.30" height="37.10" fill="none" stroke="#bdbdbd" stroke-width="0.5"/>
<rect x="451.50" y="350.40" width="1.20" height="3.20" fill="#111" stroke="none"/>
<rect x="465.02" y="361.20" width="3.40" height="0.90" fill="#111" stroke="none"/>
<line x1="451.90" y1="328.00" x2="453.00" y2="328.00" stroke="#666" stroke-width="0.5"/>
<line x1="451.90" y1="335.20" x2="453.00" y2="335.20" stroke="#666" stroke-width="0.5"/>
<line x1="451.90" y1="342.60" x2="453.00" y2="342.60" stroke="#666" stroke-width="0.5"/>
<line x1="451.90" y1="352.00" x2="453.00" y2="352.00" stroke="#666" stroke-width="0.5"/>
<line x1="455.90" y1="361.30" x2="455.90" y2="362.30" stroke="#666" stroke-width="0.5"/>
<line x1="467.49" y1="361.30" x2="467.49" y2="362.30" stroke="#666" stroke-width="0.5"/>
<line x1="478.84" y1="361.30" x2="478.84" y2="362.30" stroke="#666" stroke-width="0.5"/>
<line x1="488.50" y1="361.30" x2="488.50" y2="362.30" stroke="#666" stroke-width="0.5"/>
<line x1="496.71" y1="361.30" x2="496.71" y2="362.30" stroke="#666" stroke-width="0.5"/>
<rect x="453.00" y="389.20" width="48.30" height="37.00" fill="none" stroke="#bdbdbd" stroke-width="0.5"/>
<rect x="451.50" y="414.70" width="1.20" height="3.20" fill="#111" stroke="none"/>
<rect x="465.02" y="426.10" width="3.40" height="0.90" fill="#111" stroke="none"/>
<line x1="451.90" y1="392.50" x2="453.00" y2="392.50" stroke="#666" stroke-width="0.5"/>
<line x1="451.90" y1="400.50" x2="453.00" y2="400.50" stroke="#666" stroke-width="0.5"/>
<line x1="451.90" y1="408.30" x2="453.00" y2="408.30" stroke="#666" stroke-width="0.5"/>
<line x1="451.90" y1="416.30" x2="453.00" y2="416.30" stroke="#666" stroke-width="0.5"/>
<line x1="455.90" y1="426.20" x2="455.90" y2="427.20" stroke="#666" stroke-width="0.5"/>
<line x1="467.49" y1="426.20" x2="467.49" y2="427.20" stroke="#666" stroke-width="0.5"/>
<line x1="478.84" y1="426.20" x2="478.84" y2="427.20" stroke="#666" stroke-width="0.5"/>
<line x1="488.50" y1="426.20" x2="488.50" y2="427.20" stroke="#666" stroke-width="0.5"/>
<line x1="496.71" y1="426.20" x2="496.71" y2="427.20" stroke="#666" stroke-width="0.5"/>
<line x1="262.30" y1="254.80" x2="262.30" y2="270.60" stroke="#000" stroke-width="1.2"/>
<line x1="262.30" y1="293.30" x2="262.30" y2="308.70" stroke="#000" stroke-width="1.2"/>
<line x1="262.40" y1="326.30" x2="262.40" y2="361.30" stroke="#000" stroke-width="1.15"/>
<line x1="262.40" y1="393.80" x2="262.40" y2="429.30" stroke="#000" stroke-width="1.15"/>
<line x1="295.50" y1="311.80" x2="378.80" y2="311.80" stroke="#000" stroke-width="1.15"/>
<line x1="420.00" y1="311.80" x2="495.80" y2="311.80" stroke="#000" stroke-width="1.15"/>
<line x1="295.50" y1="447.40" x2="385.00" y2="447.40" stroke="#000" stroke-width="1.1"/>
<line x1="409.50" y1="447.40" x2="495.80" y2="447.40" stroke="#000" stroke-width="1.1"/>
<line x1="72.10" y1="486.30" x2="72.10" y2="563.50" stroke="#000" stroke-width="1.2"/>
<line x1="72.10" y1="571.50" x2="72.10" y2="596.60" stroke="#000" stroke-width="1.2"/>
<line x1="71.50" y1="596.00" x2="219.30" y2="596.00" stroke="#000" stroke-width="1.2"/>
<line x1="68.90" y1="489.50" x2="72.10" y2="489.50" stroke="#1a1a1a" stroke-width="1.0"/>
<line x1="68.90" y1="516.50" x2="72.10" y2="516.50" stroke="#1a1a1a" stroke-width="1.0"/>
<line x1="68.90" y1="543.30" x2="72.10" y2="543.30" stroke="#1a1a1a" stroke-width="1.0"/>
<line x1="68.80" y1="563.40" x2="75.20" y2="563.40" stroke="#000" stroke-width="1.1"/>
<line x1="68.80" y1="571.60" x2="75.20" y2="571.60" stroke="#000" stroke-width="1.1"/>
<line x1="68.90" y1="575.60" x2="72.10" y2="575.60" stroke="#1a1a1a" stroke-width="1.0"/>
<line x1="68.90" y1="585.80" x2="72.10" y2="585.80" stroke="#1a1a1a" stroke-width="1.0"/>
<line x1="68.90" y1="596.00" x2="72.10" y2="596.00" stroke="#1a1a1a" stroke-width="1.0"/>
<rect x="77.00" y="525.30" width="7.65" height="70.70" fill="#b8d39a" stroke="none"/>
<rect x="83.55" y="525.30" width="1.10" height="70.70" fill="#a8c788" stroke="none"/>
<rect x="90.80" y="529.80" width="7.65" height="66.20" fill="#8c98c0" stroke="none"/>
<rect x="97.35" y="529.80" width="1.10" height="66.20" fill="#7c88b4" stroke="none"/>
<rect x="104.50" y="533.50" width="7.65" height="62.50" fill="#cd897d" stroke="none"/>
<rect x="111.05" y="533.50" width="1.10" height="62.50" fill="#c2796d" stroke="none"/>
<line x1="94.50" y1="515.80" x2="94.50" y2="542.30" stroke="#254582" stroke-width="0.8"/>
<line x1="92.50" y1="542.30" x2="96.50" y2="542.30" stroke="#254582" stroke-width="0.8"/>
<line x1="92.50" y1="515.80" x2="96.50" y2="515.80" stroke="#254582" stroke-width="0.8"/>
<line x1="108.30" y1="519.50" x2="108.30" y2="544.00" stroke="#a70f2e" stroke-width="0.8"/>
<line x1="106.30" y1="544.00" x2="110.30" y2="544.00" stroke="#a70f2e" stroke-width="0.8"/>
<line x1="106.30" y1="519.50" x2="110.30" y2="519.50" stroke="#a70f2e" stroke-width="0.8"/>
<circle cx="80.50" cy="520.30" r="2.55" fill="#5bab3b" stroke="none"/>
<circle cx="79.30" cy="523.30" r="2.55" fill="#5bab3b" stroke="none"/>
<circle cx="82.50" cy="527.00" r="2.55" fill="#5bab3b" stroke="none"/>
<rect x="91.90" y="513.20" width="5.2" height="5.2" fill="#254582" stroke="none"/>
<rect x="91.90" y="525.90" width="5.2" height="5.2" fill="#254582" stroke="none"/>
<rect x="91.90" y="539.70" width="5.2" height="5.2" fill="#254582" stroke="none"/>
<path d="M108.30 516.45L111.40 522.03L105.20 522.03Z" fill="#a70f2e" stroke="none"/>
<path d="M106.80 536.65L109.90 542.23L103.70 542.23Z" fill="#a70f2e" stroke="none"/>
<path d="M110.30 536.65L113.40 542.23L107.20 542.23Z" fill="#a70f2e" stroke="none"/>
<line x1="83.30" y1="510.00" x2="110.80" y2="510.00" stroke="#000" stroke-width="1.1"/>
<line x1="94.50" y1="596.00" x2="94.50" y2="599.20" stroke="#1a1a1a" stroke-width="1.0"/>
<rect x="127.50" y="539.50" width="7.35" height="56.50" fill="#b8d39a" stroke="none"/>
<rect x="133.75" y="539.50" width="1.10" height="56.50" fill="#a8c788" stroke="none"/>
<rect x="141.30" y="541.50" width="7.15" height="54.50" fill="#8c98c0" stroke="none"/>
<rect x="147.35" y="541.50" width="1.10" height="54.50" fill="#7c88b4" stroke="none"/>
<rect x="155.00" y="542.80" width="7.65" height="53.20" fill="#cd897d" stroke="none"/>
<rect x="161.55" y="542.80" width="1.10" height="53.20" fill="#c2796d" stroke="none"/>
<line x1="145.00" y1="533.30" x2="145.00" y2="551.00" stroke="#254582" stroke-width="0.8"/>
<line x1="143.00" y1="551.00" x2="147.00" y2="551.00" stroke="#254582" stroke-width="0.8"/>
<line x1="143.00" y1="533.30" x2="147.00" y2="533.30" stroke="#254582" stroke-width="0.8"/>
<line x1="159.20" y1="535.00" x2="159.20" y2="548.00" stroke="#a70f2e" stroke-width="0.8"/>
<line x1="157.20" y1="548.00" x2="161.20" y2="548.00" stroke="#a70f2e" stroke-width="0.8"/>
<line x1="157.20" y1="535.00" x2="161.20" y2="535.00" stroke="#a70f2e" stroke-width="0.8"/>
<circle cx="129.50" cy="538.30" r="2.55" fill="#5bab3b" stroke="none"/>
<circle cx="131.30" cy="539.50" r="2.55" fill="#5bab3b" stroke="none"/>
<circle cx="133.00" cy="540.80" r="2.55" fill="#5bab3b" stroke="none"/>
<rect x="142.40" y="530.70" width="5.2" height="5.2" fill="#254582" stroke="none"/>
<rect x="142.40" y="538.40" width="5.2" height="5.2" fill="#254582" stroke="none"/>
<rect x="142.40" y="548.40" width="5.2" height="5.2" fill="#254582" stroke="none"/>
<path d="M157.50 531.65L160.60 537.23L154.40 537.23Z" fill="#a70f2e" stroke="none"/>
<path d="M160.80 537.85L163.90 543.43L157.70 543.43Z" fill="#a70f2e" stroke="none"/>
<path d="M159.30 544.15L162.40 549.73L156.20 549.73Z" fill="#a70f2e" stroke="none"/>
<line x1="132.50" y1="527.00" x2="160.80" y2="527.00" stroke="#000" stroke-width="1.1"/>
<line x1="145.00" y1="596.00" x2="145.00" y2="599.20" stroke="#1a1a1a" stroke-width="1.0"/>
<rect x="178.30" y="588.50" width="7.15" height="7.50" fill="#b8d39a" stroke="none"/>
<rect x="184.35" y="588.50" width="1.10" height="7.50" fill="#a8c788" stroke="none"/>
<rect x="192.00" y="586.00" width="7.15" height="10.00" fill="#8c98c0" stroke="none"/>
<rect x="198.05" y="586.00" width="1.10" height="10.00" fill="#7c88b4" stroke="none"/>
<rect x="205.80" y="586.50" width="7.15" height="9.50" fill="#cd897d" stroke="none"/>
<rect x="211.85" y="586.50" width="1.10" height="9.50" fill="#c2796d" stroke="none"/>
<line x1="195.60" y1="579.50" x2="195.60" y2="588.00" stroke="#254582" stroke-width="0.8"/>
<line x1="193.60" y1="588.00" x2="197.60" y2="588.00" stroke="#254582" stroke-width="0.8"/>
<line x1="193.60" y1="579.50" x2="197.60" y2="579.50" stroke="#254582" stroke-width="0.8"/>
<line x1="209.30" y1="582.00" x2="209.30" y2="590.00" stroke="#a70f2e" stroke-width="0.8"/>
<line x1="207.30" y1="590.00" x2="211.30" y2="590.00" stroke="#a70f2e" stroke-width="0.8"/>
<line x1="207.30" y1="582.00" x2="211.30" y2="582.00" stroke="#a70f2e" stroke-width="0.8"/>
<circle cx="180.00" cy="583.50" r="2.55" fill="#5bab3b" stroke="none"/>
<circle cx="183.30" cy="588.30" r="2.55" fill="#5bab3b" stroke="none"/>
<circle cx="181.30" cy="587.80" r="2.55" fill="#5bab3b" stroke="none"/>
<rect x="191.20" y="576.90" width="5.2" height="5.2" fill="#254582" stroke="none"/>
<rect x="194.40" y="578.20" width="5.2" height="5.2" fill="#254582" stroke="none"/>
<rect x="192.90" y="585.20" width="5.2" height="5.2" fill="#254582" stroke="none"/>
<path d="M209.30 579.15L212.40 584.73L206.20 584.73Z" fill="#a70f2e" stroke="none"/>
<path d="M207.50 580.15L210.60 585.73L204.40 585.73Z" fill="#a70f2e" stroke="none"/>
<path d="M209.30 585.85L212.40 591.43L206.20 591.43Z" fill="#a70f2e" stroke="none"/>
<line x1="182.50" y1="571.00" x2="209.30" y2="571.00" stroke="#000" stroke-width="1.1"/>
<line x1="195.50" y1="596.00" x2="195.50" y2="599.20" stroke="#1a1a1a" stroke-width="1.0"/>
<rect x="145.80" y="481.00" width="8.10" height="7.60" fill="#5bab3b" stroke="none"/>
<rect x="145.80" y="492.20" width="8.10" height="7.60" fill="#254582" stroke="none"/>
<rect x="145.80" y="503.70" width="8.10" height="7.60" fill="#a70f2e" stroke="none"/>
<line x1="289.20" y1="485.20" x2="289.20" y2="538.30" stroke="#000" stroke-width="1.2"/>
<line x1="289.20" y1="545.80" x2="289.20" y2="596.60" stroke="#000" stroke-width="1.2"/>
<line x1="288.60" y1="596.00" x2="430.50" y2="596.00" stroke="#000" stroke-width="1.2"/>
<line x1="285.90" y1="537.90" x2="292.30" y2="537.90" stroke="#000" stroke-width="1.1"/>
<line x1="285.90" y1="545.70" x2="292.30" y2="545.70" stroke="#000" stroke-width="1.1"/>
<line x1="286.00" y1="487.00" x2="289.20" y2="487.00" stroke="#1a1a1a" stroke-width="1.0"/>
<line x1="286.00" y1="497.30" x2="289.20" y2="497.30" stroke="#1a1a1a" stroke-width="1.0"/>
<line x1="286.00" y1="507.30" x2="289.20" y2="507.30" stroke="#1a1a1a" stroke-width="1.0"/>
<line x1="286.00" y1="517.50" x2="289.20" y2="517.50" stroke="#1a1a1a" stroke-width="1.0"/>
<line x1="286.00" y1="527.50" x2="289.20" y2="527.50" stroke="#1a1a1a" stroke-width="1.0"/>
<line x1="286.00" y1="537.80" x2="289.20" y2="537.80" stroke="#1a1a1a" stroke-width="1.0"/>
<line x1="286.00" y1="545.80" x2="289.20" y2="545.80" stroke="#1a1a1a" stroke-width="1.0"/>
<line x1="286.00" y1="562.80" x2="289.20" y2="562.80" stroke="#1a1a1a" stroke-width="1.0"/>
<line x1="286.00" y1="579.50" x2="289.20" y2="579.50" stroke="#1a1a1a" stroke-width="1.0"/>
<line x1="286.00" y1="596.00" x2="289.20" y2="596.00" stroke="#1a1a1a" stroke-width="1.0"/>
<rect x="294.50" y="505.30" width="6.45" height="90.70" fill="#b8d39a" stroke="none"/>
<rect x="299.85" y="505.30" width="1.10" height="90.70" fill="#a8c788" stroke="none"/>
<rect x="307.50" y="507.80" width="6.65" height="88.20" fill="#8c98c0" stroke="none"/>
<rect x="313.05" y="507.80" width="1.10" height="88.20" fill="#7c88b4" stroke="none"/>
<rect x="320.80" y="507.80" width="6.85" height="88.20" fill="#cd897d" stroke="none"/>
<rect x="326.55" y="507.80" width="1.10" height="88.20" fill="#c2796d" stroke="none"/>
<line x1="311.20" y1="499.00" x2="311.20" y2="518.50" stroke="#254582" stroke-width="0.8"/>
<line x1="309.20" y1="518.50" x2="313.20" y2="518.50" stroke="#254582" stroke-width="0.8"/>
<line x1="309.20" y1="499.00" x2="313.20" y2="499.00" stroke="#254582" stroke-width="0.8"/>
<line x1="324.30" y1="493.30" x2="324.30" y2="516.00" stroke="#a70f2e" stroke-width="0.8"/>
<line x1="322.30" y1="516.00" x2="326.30" y2="516.00" stroke="#a70f2e" stroke-width="0.8"/>
<line x1="322.30" y1="493.30" x2="326.30" y2="493.30" stroke="#a70f2e" stroke-width="0.8"/>
<circle cx="295.80" cy="501.00" r="2.55" fill="#5bab3b" stroke="none"/>
<circle cx="299.30" cy="502.00" r="2.55" fill="#5bab3b" stroke="none"/>
<circle cx="298.00" cy="508.50" r="2.55" fill="#5bab3b" stroke="none"/>
<rect x="306.90" y="496.40" width="5.2" height="5.2" fill="#254582" stroke="none"/>
<rect x="309.90" y="499.70" width="5.2" height="5.2" fill="#254582" stroke="none"/>
<rect x="308.70" y="515.90" width="5.2" height="5.2" fill="#254582" stroke="none"/>
<path d="M324.30 490.15L327.40 495.73L321.20 495.73Z" fill="#a70f2e" stroke="none"/>
<path d="M322.50 507.85L325.60 513.43L319.40 513.43Z" fill="#a70f2e" stroke="none"/>
<path d="M326.30 512.85L329.40 518.43L323.20 518.43Z" fill="#a70f2e" stroke="none"/>
<line x1="297.00" y1="486.50" x2="327.50" y2="486.50" stroke="#000" stroke-width="1.1"/>
<line x1="311.30" y1="596.00" x2="311.30" y2="599.20" stroke="#1a1a1a" stroke-width="1.0"/>
<rect x="343.00" y="518.50" width="6.65" height="77.50" fill="#b8d39a" stroke="none"/>
<rect x="348.55" y="518.50" width="1.10" height="77.50" fill="#a8c788" stroke="none"/>
<rect x="355.80" y="518.50" width="6.85" height="77.50" fill="#8c98c0" stroke="none"/>
<rect x="361.55" y="518.50" width="1.10" height="77.50" fill="#7c88b4" stroke="none"/>
<rect x="368.80" y="519.00" width="7.15" height="77.00" fill="#cd897d" stroke="none"/>
<rect x="374.85" y="519.00" width="1.10" height="77.00" fill="#c2796d" stroke="none"/>
<line x1="359.30" y1="514.80" x2="359.30" y2="521.00" stroke="#254582" stroke-width="0.8"/>
<line x1="357.30" y1="521.00" x2="361.30" y2="521.00" stroke="#254582" stroke-width="0.8"/>
<line x1="357.30" y1="514.80" x2="361.30" y2="514.80" stroke="#254582" stroke-width="0.8"/>
<line x1="372.60" y1="513.50" x2="372.60" y2="525.00" stroke="#a70f2e" stroke-width="0.8"/>
<line x1="370.60" y1="525.00" x2="374.60" y2="525.00" stroke="#a70f2e" stroke-width="0.8"/>
<line x1="370.60" y1="513.50" x2="374.60" y2="513.50" stroke="#a70f2e" stroke-width="0.8"/>
<circle cx="346.30" cy="513.50" r="2.55" fill="#5bab3b" stroke="none"/>
<circle cx="344.50" cy="516.50" r="2.55" fill="#5bab3b" stroke="none"/>
<circle cx="347.50" cy="520.30" r="2.55" fill="#5bab3b" stroke="none"/>
<rect x="354.90" y="512.20" width="5.2" height="5.2" fill="#254582" stroke="none"/>
<rect x="356.70" y="515.20" width="5.2" height="5.2" fill="#254582" stroke="none"/>
<rect x="358.70" y="518.20" width="5.2" height="5.2" fill="#254582" stroke="none"/>
<path d="M371.30 510.45L374.40 516.03L368.20 516.03Z" fill="#a70f2e" stroke="none"/>
<path d="M374.30 511.65L377.40 517.23L371.20 517.23Z" fill="#a70f2e" stroke="none"/>
<path d="M373.00 521.65L376.10 527.23L369.90 527.23Z" fill="#a70f2e" stroke="none"/>
<line x1="348.00" y1="505.30" x2="375.00" y2="505.30" stroke="#000" stroke-width="1.1"/>
<line x1="359.30" y1="596.00" x2="359.30" y2="599.20" stroke="#1a1a1a" stroke-width="1.0"/>
<rect x="391.30" y="569.00" width="6.35" height="27.00" fill="#b8d39a" stroke="none"/>
<rect x="396.55" y="569.00" width="1.10" height="27.00" fill="#a8c788" stroke="none"/>
<rect x="404.30" y="569.00" width="6.65" height="27.00" fill="#8c98c0" stroke="none"/>
<rect x="409.85" y="569.00" width="1.10" height="27.00" fill="#7c88b4" stroke="none"/>
<rect x="417.50" y="567.30" width="6.65" height="28.70" fill="#cd897d" stroke="none"/>
<rect x="423.05" y="567.30" width="1.10" height="28.70" fill="#c2796d" stroke="none"/>
<line x1="407.80" y1="564.50" x2="407.80" y2="570.30" stroke="#254582" stroke-width="0.8"/>
<line x1="405.80" y1="570.30" x2="409.80" y2="570.30" stroke="#254582" stroke-width="0.8"/>
<line x1="405.80" y1="564.50" x2="409.80" y2="564.50" stroke="#254582" stroke-width="0.8"/>
<line x1="421.00" y1="560.00" x2="421.00" y2="570.00" stroke="#a70f2e" stroke-width="0.8"/>
<line x1="419.00" y1="570.00" x2="423.00" y2="570.00" stroke="#a70f2e" stroke-width="0.8"/>
<line x1="419.00" y1="560.00" x2="423.00" y2="560.00" stroke="#a70f2e" stroke-width="0.8"/>
<circle cx="392.50" cy="567.30" r="2.55" fill="#5bab3b" stroke="none"/>
<circle cx="394.50" cy="568.50" r="2.55" fill="#5bab3b" stroke="none"/>
<circle cx="396.30" cy="569.50" r="2.55" fill="#5bab3b" stroke="none"/>
<rect x="403.20" y="561.90" width="5.2" height="5.2" fill="#254582" stroke="none"/>
<rect x="406.20" y="566.40" width="5.2" height="5.2" fill="#254582" stroke="none"/>
<rect x="406.90" y="567.70" width="5.2" height="5.2" fill="#254582" stroke="none"/>
<path d="M420.80 557.15L423.90 562.73L417.70 562.73Z" fill="#a70f2e" stroke="none"/>
<path d="M419.30 562.15L422.40 567.73L416.20 567.73Z" fill="#a70f2e" stroke="none"/>
<path d="M422.50 566.35L425.60 571.93L419.40 571.93Z" fill="#a70f2e" stroke="none"/>
<line x1="396.30" y1="552.30" x2="423.00" y2="552.30" stroke="#000" stroke-width="1.1"/>
<line x1="407.50" y1="596.00" x2="407.50" y2="599.20" stroke="#1a1a1a" stroke-width="1.0"/>
<rect x="393.00" y="481.00" width="8.10" height="7.60" fill="#5bab3b" stroke="none"/>
<rect x="393.00" y="492.20" width="8.10" height="7.60" fill="#254582" stroke="none"/>
<rect x="393.00" y="503.70" width="8.10" height="7.60" fill="#a70f2e" stroke="none"/>
</g>
<g fill="#1c1c1c" stroke="#1c1c1c" stroke-width="0.2" stroke-linejoin="round">
<text transform="translate(7.40 16.30) rotate(0.03) scale(1.05 1)" font-size="11.9" font-weight="bold" fill="#000" stroke="#000" stroke-width="0.6">A</text>
<text transform="translate(245.70 16.20) rotate(0.03) scale(1.05 1)" font-size="11.9" font-weight="bold" fill="#000" stroke="#000" stroke-width="0.6">B</text>
<text transform="translate(7.50 241.90) rotate(0.03) scale(1.05 1)" font-size="11.9" font-weight="bold" fill="#000" stroke="#000" stroke-width="0.6">C</text>
<text transform="translate(245.70 241.80) rotate(0.03) scale(1.05 1)" font-size="11.9" font-weight="bold" fill="#000" stroke="#000" stroke-width="0.6">D</text>
<text transform="translate(7.50 470.70) rotate(0.03) scale(1.05 1)" font-size="11.9" font-weight="bold" fill="#000" stroke="#000" stroke-width="0.6">E</text>
<text transform="translate(245.70 470.70) rotate(0.03) scale(1.05 1)" font-size="11.9" font-weight="bold" fill="#000" stroke="#000" stroke-width="0.6">F</text>
<text transform="translate(69.80 43.50) rotate(0.03)" font-size="5.7" fill="#2a2a2a" stroke="#2a2a2a" stroke-width="0.1">6.62</text>
<text transform="translate(129.40 43.50) rotate(0.03)" font-size="5.7" text-anchor="end" fill="#2a2a2a" stroke="#2a2a2a" stroke-width="0.1">11.4</text>
<text transform="translate(72.20 90.90) rotate(0.03)" font-size="5.7" fill="#2a2a2a" stroke="#2a2a2a" stroke-width="0.1">80</text>
<text transform="translate(129.10 90.90) rotate(0.03)" font-size="5.7" text-anchor="end" fill="#2a2a2a" stroke="#2a2a2a" stroke-width="0.1">1.91</text>
<text transform="translate(61.30 44.90) rotate(0.03)" font-size="7.1" text-anchor="end">10<tspan dy="-2.8" font-size="3.7">5</tspan></text>
<text transform="translate(61.30 59.20) rotate(0.03)" font-size="7.1" text-anchor="end">10<tspan dy="-2.8" font-size="3.7">4</tspan></text>
<text transform="translate(61.30 75.10) rotate(0.03)" font-size="7.1" text-anchor="end">10<tspan dy="-2.8" font-size="3.7">3</tspan></text>
<text transform="translate(61.30 81.00) rotate(0.03)" font-size="7.1" text-anchor="end">0</text>
<text transform="translate(61.30 94.70) rotate(0.03)" font-size="7.1" text-anchor="end">-10<tspan dy="-2.8" font-size="3.7">3</tspan></text>
<text transform="translate(76.30 105.20) rotate(0.03)" font-size="7.1" text-anchor="middle">0</text>
<text transform="translate(95.10 105.20) rotate(0.03)" font-size="7.1" text-anchor="middle">10<tspan dy="-2.8" font-size="3.7">3</tspan></text>
<text transform="translate(109.70 105.20) rotate(0.03)" font-size="7.1" text-anchor="middle">10<tspan dy="-2.8" font-size="3.7">4</tspan></text>
<text transform="translate(124.90 105.20) rotate(0.03)" font-size="7.1" text-anchor="middle">10<tspan dy="-2.8" font-size="3.7">5</tspan></text>
<text transform="translate(167.80 43.60) rotate(0.03)" font-size="5.7" fill="#2a2a2a" stroke="#2a2a2a" stroke-width="0.1">3.38</text>
<text transform="translate(223.60 43.60) rotate(0.03)" font-size="5.7" text-anchor="end" fill="#2a2a2a" stroke="#2a2a2a" stroke-width="0.1">73</text>
<text transform="translate(167.80 90.60) rotate(0.03)" font-size="5.7" fill="#2a2a2a" stroke="#2a2a2a" stroke-width="0.1">22.4</text>
<text transform="translate(225.60 90.60) rotate(0.03)" font-size="5.7" text-anchor="end" fill="#2a2a2a" stroke="#2a2a2a" stroke-width="0.1">1.21</text>
<text transform="translate(160.50 43.30) rotate(0.03)" font-size="7.1" text-anchor="end">10<tspan dy="-2.8" font-size="3.7">5</tspan></text>
<text transform="translate(160.50 57.40) rotate(0.03)" font-size="7.1" text-anchor="end">10<tspan dy="-2.8" font-size="3.7">4</tspan></text>
<text transform="translate(160.50 73.60) rotate(0.03)" font-size="7.1" text-anchor="end">10<tspan dy="-2.8" font-size="3.7">3</tspan></text>
<text transform="translate(160.50 83.90) rotate(0.03)" font-size="7.1" text-anchor="end">0</text>
<text transform="translate(160.50 94.00) rotate(0.03)" font-size="7.1" text-anchor="end">-10<tspan dy="-2.8" font-size="3.7">3</tspan></text>
<text transform="translate(176.30 105.20) rotate(0.03)" font-size="7.1" text-anchor="middle">0</text>
<text transform="translate(191.30 105.20) rotate(0.03)" font-size="7.1" text-anchor="middle">10<tspan dy="-2.8" font-size="3.7">3</tspan></text>
<text transform="translate(206.80 105.20) rotate(0.03)" font-size="7.1" text-anchor="middle">10<tspan dy="-2.8" font-size="3.7">4</tspan></text>
<text transform="translate(221.60 105.20) rotate(0.03)" font-size="7.1" text-anchor="middle">10<tspan dy="-2.8" font-size="3.7">5</tspan></text>
<text transform="translate(69.80 131.60) rotate(0.03)" font-size="5.7" fill="#2a2a2a" stroke="#2a2a2a" stroke-width="0.1">9.09</text>
<text transform="translate(127.40 131.60) rotate(0.03)" font-size="5.7" text-anchor="end" fill="#2a2a2a" stroke="#2a2a2a" stroke-width="0.1">18</text>
<text transform="translate(69.80 179.60) rotate(0.03)" font-size="5.7" fill="#2a2a2a" stroke="#2a2a2a" stroke-width="0.1">72.8</text>
<text transform="translate(127.40 179.60) rotate(0.03)" font-size="5.7" text-anchor="end" fill="#2a2a2a" stroke="#2a2a2a" stroke-width="0.1">0.1</text>
<text transform="translate(61.30 132.40) rotate(0.03)" font-size="7.1" text-anchor="end">10<tspan dy="-2.8" font-size="3.7">5</tspan></text>
<text transform="translate(61.30 146.20) rotate(0.03)" font-size="7.1" text-anchor="end">10<tspan dy="-2.8" font-size="3.7">4</tspan></text>
<text transform="translate(61.30 162.30) rotate(0.03)" font-size="7.1" text-anchor="end">10<tspan dy="-2.8" font-size="3.7">3</tspan></text>
<text transform="translate(61.30 169.00) rotate(0.03)" font-size="7.1" text-anchor="end">0</text>
<text transform="translate(61.30 181.10) rotate(0.03)" font-size="7.1" text-anchor="end">-10<tspan dy="-2.8" font-size="3.7">3</tspan></text>
<text transform="translate(76.80 192.60) rotate(0.03)" font-size="7.1" text-anchor="middle">0</text>
<text transform="translate(94.40 192.60) rotate(0.03)" font-size="7.1" text-anchor="middle">10<tspan dy="-2.8" font-size="3.7">3</tspan></text>
<text transform="translate(108.90 192.60) rotate(0.03)" font-size="7.1" text-anchor="middle">10<tspan dy="-2.8" font-size="3.7">4</tspan></text>
<text transform="translate(123.90 192.60) rotate(0.03)" font-size="7.1" text-anchor="middle">10<tspan dy="-2.8" font-size="3.7">5</tspan></text>
<text transform="translate(167.80 131.60) rotate(0.03)" font-size="5.7" fill="#2a2a2a" stroke="#2a2a2a" stroke-width="0.1">6.76</text>
<text transform="translate(225.90 131.60) rotate(0.03)" font-size="5.7" text-anchor="end" fill="#2a2a2a" stroke="#2a2a2a" stroke-width="0.1">20.9</text>
<text transform="translate(167.80 179.60) rotate(0.03)" font-size="5.7" fill="#2a2a2a" stroke="#2a2a2a" stroke-width="0.1">72.1</text>
<text transform="translate(225.90 179.60) rotate(0.03)" font-size="5.7" text-anchor="end" fill="#2a2a2a" stroke="#2a2a2a" stroke-width="0.1">0.29</text>
<text transform="translate(160.50 133.30) rotate(0.03)" font-size="7.1" text-anchor="end">10<tspan dy="-2.8" font-size="3.7">5</tspan></text>
<text transform="translate(160.50 147.20) rotate(0.03)" font-size="7.1" text-anchor="end">10<tspan dy="-2.8" font-size="3.7">4</tspan></text>
<text transform="translate(160.50 162.80) rotate(0.03)" font-size="7.1" text-anchor="end">10<tspan dy="-2.8" font-size="3.7">3</tspan></text>
<text transform="translate(160.50 171.40) rotate(0.03)" font-size="7.1" text-anchor="end">0</text>
<text transform="translate(160.50 181.40) rotate(0.03)" font-size="7.1" text-anchor="end">-10<tspan dy="-2.8" font-size="3.7">3</tspan></text>
<text transform="translate(177.30 192.60) rotate(0.03)" font-size="7.1" text-anchor="middle">0</text>
<text transform="translate(192.80 192.60) rotate(0.03)" font-size="7.1" text-anchor="middle">10<tspan dy="-2.8" font-size="3.7">3</tspan></text>
<text transform="translate(207.40 192.60) rotate(0.03)" font-size="7.1" text-anchor="middle">10<tspan dy="-2.8" font-size="3.7">4</tspan></text>
<text transform="translate(221.70 192.60) rotate(0.03)" font-size="7.1" text-anchor="middle">10<tspan dy="-2.8" font-size="3.7">5</tspan></text>
<text transform="translate(98.80 30.60) rotate(0.03)" font-size="8.5" text-anchor="middle" textLength="35.7" lengthAdjust="spacingAndGlyphs">Untreated</text>
<text transform="translate(196.10 30.30) rotate(0.03)" font-size="8.5" text-anchor="middle" textLength="18.4" lengthAdjust="spacingAndGlyphs">Dexa</text>
<text transform="translate(29.00 66.20) rotate(-89.97)" font-size="8.6" text-anchor="middle">Cas9</text>
<text transform="translate(29.20 145.50) rotate(-89.97)" font-size="8.6" text-anchor="middle"><tspan font-style="italic">NR3C1</tspan> KO</text>
<text transform="translate(43.30 109.80) rotate(-89.97)" font-size="10.8" text-anchor="middle" textLength="31.4" lengthAdjust="spacingAndGlyphs" stroke-width="0.4">Annexin-V</text>
<text transform="translate(147.00 205.10) rotate(0.03)" font-size="10.6" text-anchor="middle" textLength="30" lengthAdjust="spacingAndGlyphs" stroke-width="0.4">Live/dead</text>
<text transform="translate(287.00 48.00) rotate(0.03)" font-size="8.5" text-anchor="end" stroke-width="0.15">100</text>
<text transform="translate(287.00 64.30) rotate(0.03)" font-size="8.5" text-anchor="end" stroke-width="0.15">80</text>
<text transform="translate(287.00 80.70) rotate(0.03)" font-size="8.5" text-anchor="end" stroke-width="0.15">60</text>
<text transform="translate(287.00 97.00) rotate(0.03)" font-size="8.5" text-anchor="end" stroke-width="0.15">40</text>
<text transform="translate(287.00 113.30) rotate(0.03)" font-size="8.5" text-anchor="end" stroke-width="0.15">20</text>
<text transform="translate(287.00 129.80) rotate(0.03)" font-size="8.5" text-anchor="end" stroke-width="0.15">0</text>
<text transform="translate(266.00 84.40) rotate(-89.97)" font-size="9" text-anchor="middle" textLength="43.5" lengthAdjust="spacingAndGlyphs" stroke-width="0.45">Live cells (%)</text>
<text transform="translate(334.00 40.30) rotate(0.03)" font-size="9.0" text-anchor="middle" font-weight="bold" stroke-width="0.3">**</text>
<text transform="translate(402.50 39.00) rotate(0.03)" font-size="8.3" text-anchor="middle" stroke-width="0.12">NS</text>
<text transform="translate(319.90 138.50) rotate(-44.97)" font-size="8.5" text-anchor="end" stroke-width="0.15">Cas9</text>
<text transform="translate(353.60 138.50) rotate(-44.97)" font-size="8.5" text-anchor="end" stroke-width="0.15">Cas9 + Dexa</text>
<text transform="translate(387.40 138.50) rotate(-44.97)" font-size="8.5" text-anchor="end" stroke-width="0.15"><tspan font-style="italic">NR3C1</tspan> KO</text>
<text transform="translate(421.10 138.50) rotate(-44.97)" font-size="8.5" text-anchor="end" stroke-width="0.15"><tspan font-style="italic">NR3C1</tspan> KO + Dexa</text>
<text transform="translate(65.80 278.80) rotate(0.03)" font-size="8.5" text-anchor="end" stroke-width="0.15"><tspan letter-spacing="0.15">2.5×10<tspan dy="-3.5" font-size="6">6</tspan></tspan></text>
<text transform="translate(65.80 295.80) rotate(0.03)" font-size="8.5" text-anchor="end" stroke-width="0.15"><tspan letter-spacing="0.15">2×10<tspan dy="-3.5" font-size="6">6</tspan></tspan></text>
<text transform="translate(65.80 312.80) rotate(0.03)" font-size="8.5" text-anchor="end" stroke-width="0.15"><tspan letter-spacing="0.15">1.5×10<tspan dy="-3.5" font-size="6">6</tspan></tspan></text>
<text transform="translate(65.80 329.60) rotate(0.03)" font-size="8.5" text-anchor="end" stroke-width="0.15"><tspan letter-spacing="0.15">1×10<tspan dy="-3.5" font-size="6">6</tspan></tspan></text>
<text transform="translate(65.80 346.60) rotate(0.03)" font-size="8.5" text-anchor="end" stroke-width="0.15"><tspan letter-spacing="0.15">5×10<tspan dy="-3.5" font-size="6">5</tspan></tspan></text>
<text transform="translate(65.80 363.80) rotate(0.03)" font-size="8.5" text-anchor="end" stroke-width="0.15">0</text>
<text transform="translate(27.60 317.00) rotate(-89.97)" font-size="9" text-anchor="middle" textLength="65.5" lengthAdjust="spacingAndGlyphs" stroke-width="0.45">Absolute cell number</text>
<text transform="translate(107.40 284.80) rotate(0.03)" font-size="9.0" text-anchor="middle" font-weight="bold" stroke-width="0.3">**</text>
<text transform="translate(170.00 289.30) rotate(0.03)" font-size="8.3" text-anchor="middle" stroke-width="0.12">NS</text>
<text transform="translate(95.20 372.60) rotate(-44.97)" font-size="8.5" text-anchor="end" stroke-width="0.15">Cas9</text>
<text transform="translate(125.70 372.60) rotate(-44.97)" font-size="8.5" text-anchor="end" stroke-width="0.15">Cas9 + Dexa</text>
<text transform="translate(155.70 372.60) rotate(-44.97)" font-size="8.5" text-anchor="end" stroke-width="0.15"><tspan font-style="italic">NR3C1</tspan> KO</text>
<text transform="translate(185.70 372.60) rotate(-44.97)" font-size="8.5" text-anchor="end" stroke-width="0.15"><tspan font-style="italic">NR3C1</tspan> KO + Dexa</text>
<text transform="translate(313.30 248.20) rotate(0.03)" font-size="8.5" text-anchor="middle" stroke-width="0.12">Cas9</text>
<text transform="translate(395.80 248.20) rotate(0.03)" font-size="8.5" text-anchor="middle" stroke-width="0.12"><tspan font-style="italic">NR3C1</tspan> KO</text>
<text transform="translate(477.00 248.20) rotate(0.03)" font-size="8.5" text-anchor="middle" stroke-width="0.12"><tspan font-style="italic">NR3C1</tspan> KO + Dexa</text>
<text transform="translate(284.10 258.90) rotate(0.03)" font-size="5.7" text-anchor="end" stroke-width="0.16">10<tspan dy="-2.0" font-size="3.8">5</tspan></text>
<text transform="translate(284.10 267.70) rotate(0.03)" font-size="5.7" text-anchor="end" stroke-width="0.16">10<tspan dy="-2.0" font-size="3.8">4</tspan></text>
<text transform="translate(284.10 277.70) rotate(0.03)" font-size="5.7" text-anchor="end" stroke-width="0.16">10<tspan dy="-2.0" font-size="3.8">3</tspan></text>
<text transform="translate(282.50 283.70) rotate(0.03)" font-size="5.7" text-anchor="end" stroke-width="0.16">0</text>
<text transform="translate(284.10 290.10) rotate(0.03)" font-size="5.7" text-anchor="end" stroke-width="0.16">-10<tspan dy="-2.0" font-size="3.8">3</tspan></text>
<text transform="translate(291.37 299.40) rotate(0.03)" font-size="5.7" text-anchor="middle" stroke-width="0.16">-10<tspan dy="-2.0" font-size="3.8">3</tspan></text>
<text transform="translate(300.33 299.40) rotate(0.03)" font-size="5.7" text-anchor="middle" stroke-width="0.16">0</text>
<text transform="translate(308.78 299.40) rotate(0.03)" font-size="5.7" text-anchor="middle" stroke-width="0.16">10<tspan dy="-2.0" font-size="3.8">3</tspan></text>
<text transform="translate(321.84 299.40) rotate(0.03)" font-size="5.7" text-anchor="middle" stroke-width="0.16">10<tspan dy="-2.0" font-size="3.8">4</tspan></text>
<text transform="translate(335.15 299.40) rotate(0.03)" font-size="5.7" text-anchor="middle" stroke-width="0.16">10<tspan dy="-2.0" font-size="3.8">5</tspan></text>
<text transform="translate(284.10 329.90) rotate(0.03)" font-size="5.7" text-anchor="end" stroke-width="0.16">10<tspan dy="-2.0" font-size="3.8">5</tspan></text>
<text transform="translate(284.10 337.10) rotate(0.03)" font-size="5.7" text-anchor="end" stroke-width="0.16">10<tspan dy="-2.0" font-size="3.8">4</tspan></text>
<text transform="translate(284.10 344.50) rotate(0.03)" font-size="5.7" text-anchor="end" stroke-width="0.16">10<tspan dy="-2.0" font-size="3.8">3</tspan></text>
<text transform="translate(282.50 353.90) rotate(0.03)" font-size="5.7" text-anchor="end" stroke-width="0.16">0</text>
<text transform="translate(291.37 369.90) rotate(0.03)" font-size="5.7" text-anchor="middle" stroke-width="0.16">-10<tspan dy="-2.0" font-size="3.8">3</tspan></text>
<text transform="translate(303.66 369.90) rotate(0.03)" font-size="5.7" text-anchor="middle" stroke-width="0.16">0</text>
<text transform="translate(315.69 369.90) rotate(0.03)" font-size="5.7" text-anchor="middle" stroke-width="0.16">10<tspan dy="-2.0" font-size="3.8">3</tspan></text>
<text transform="translate(325.93 369.90) rotate(0.03)" font-size="5.7" text-anchor="middle" stroke-width="0.16">10<tspan dy="-2.0" font-size="3.8">4</tspan></text>
<text transform="translate(334.64 369.90) rotate(0.03)" font-size="5.7" text-anchor="middle" stroke-width="0.16">10<tspan dy="-2.0" font-size="3.8">5</tspan></text>
<text transform="translate(290.70 329.20) rotate(0.03) scale(1.08 1)" font-size="4.5" fill="#303030" stroke="#303030" stroke-width="0.1">Q1</text>
<text transform="translate(289.70 334.50) rotate(0.03) scale(1.08 1)" font-size="4.5" fill="#303030" stroke="#303030" stroke-width="0.1">2.18</text>
<text transform="translate(334.30 329.20) rotate(0.03) scale(1.08 1)" font-size="4.5" text-anchor="end" fill="#303030" stroke="#303030" stroke-width="0.1">Q2</text>
<text transform="translate(336.30 334.50) rotate(0.03) scale(1.08 1)" font-size="4.5" text-anchor="end" fill="#303030" stroke="#303030" stroke-width="0.1">0.58</text>
<text transform="translate(334.30 353.00) rotate(0.03) scale(1.08 1)" font-size="4.5" text-anchor="end" fill="#303030" stroke="#303030" stroke-width="0.1">Q3</text>
<text transform="translate(336.30 358.50) rotate(0.03) scale(1.08 1)" font-size="4.5" text-anchor="end" fill="#303030" stroke="#303030" stroke-width="0.1">0.57</text>
<text transform="translate(290.70 353.00) rotate(0.03) scale(1.08 1)" font-size="4.5" fill="#303030" stroke="#303030" stroke-width="0.1">Q4</text>
<text transform="translate(289.70 358.50) rotate(0.03) scale(1.08 1)" font-size="4.5" fill="#303030" stroke="#303030" stroke-width="0.1">96.7</text>
<text transform="translate(284.10 394.40) rotate(0.03)" font-size="5.7" text-anchor="end" stroke-width="0.16">10<tspan dy="-2.0" font-size="3.8">5</tspan></text>
<text transform="translate(284.10 402.40) rotate(0.03)" font-size="5.7" text-anchor="end" stroke-width="0.16">10<tspan dy="-2.0" font-size="3.8">4</tspan></text>
<text transform="translate(284.10 410.20) rotate(0.03)" font-size="5.7" text-anchor="end" stroke-width="0.16">10<tspan dy="-2.0" font-size="3.8">3</tspan></text>
<text transform="translate(282.50 418.20) rotate(0.03)" font-size="5.7" text-anchor="end" stroke-width="0.16">0</text>
<text transform="translate(291.37 434.90) rotate(0.03)" font-size="5.7" text-anchor="middle" stroke-width="0.16">-10<tspan dy="-2.0" font-size="3.8">3</tspan></text>
<text transform="translate(303.66 434.90) rotate(0.03)" font-size="5.7" text-anchor="middle" stroke-width="0.16">0</text>
<text transform="translate(315.69 434.90) rotate(0.03)" font-size="5.7" text-anchor="middle" stroke-width="0.16">10<tspan dy="-2.0" font-size="3.8">3</tspan></text>
<text transform="translate(325.93 434.90) rotate(0.03)" font-size="5.7" text-anchor="middle" stroke-width="0.16">10<tspan dy="-2.0" font-size="3.8">4</tspan></text>
<text transform="translate(334.64 434.90) rotate(0.03)" font-size="5.7" text-anchor="middle" stroke-width="0.16">10<tspan dy="-2.0" font-size="3.8">5</tspan></text>
<text transform="translate(290.70 394.20) rotate(0.03) scale(1.08 1)" font-size="4.5" fill="#303030" stroke="#303030" stroke-width="0.1">Q1</text>
<text transform="translate(289.70 399.50) rotate(0.03) scale(1.08 1)" font-size="4.5" fill="#303030" stroke="#303030" stroke-width="0.1">1.12</text>
<text transform="translate(334.30 394.20) rotate(0.03) scale(1.08 1)" font-size="4.5" text-anchor="end" fill="#303030" stroke="#303030" stroke-width="0.1">Q2</text>
<text transform="translate(336.30 399.50) rotate(0.03) scale(1.08 1)" font-size="4.5" text-anchor="end" fill="#303030" stroke="#303030" stroke-width="0.1">0.42</text>
<text transform="translate(334.30 417.50) rotate(0.03) scale(1.08 1)" font-size="4.5" text-anchor="end" fill="#303030" stroke="#303030" stroke-width="0.1">Q3</text>
<text transform="translate(336.30 423.00) rotate(0.03) scale(1.08 1)" font-size="4.5" text-anchor="end" fill="#303030" stroke="#303030" stroke-width="0.1">2.88</text>
<text transform="translate(290.70 417.50) rotate(0.03) scale(1.08 1)" font-size="4.5" fill="#303030" stroke="#303030" stroke-width="0.1">Q4</text>
<text transform="translate(289.70 423.00) rotate(0.03) scale(1.08 1)" font-size="4.5" fill="#303030" stroke="#303030" stroke-width="0.1">95.6</text>
<text transform="translate(366.30 258.90) rotate(0.03)" font-size="5.7" text-anchor="end" stroke-width="0.16">10<tspan dy="-2.0" font-size="3.8">5</tspan></text>
<text transform="translate(366.30 267.70) rotate(0.03)" font-size="5.7" text-anchor="end" stroke-width="0.16">10<tspan dy="-2.0" font-size="3.8">4</tspan></text>
<text transform="translate(366.30 277.70) rotate(0.03)" font-size="5.7" text-anchor="end" stroke-width="0.16">10<tspan dy="-2.0" font-size="3.8">3</tspan></text>
<text transform="translate(364.70 283.70) rotate(0.03)" font-size="5.7" text-anchor="end" stroke-width="0.16">0</text>
<text transform="translate(366.30 290.10) rotate(0.03)" font-size="5.7" text-anchor="end" stroke-width="0.16">-10<tspan dy="-2.0" font-size="3.8">3</tspan></text>
<text transform="translate(373.58 299.40) rotate(0.03)" font-size="5.7" text-anchor="middle" stroke-width="0.16">-10<tspan dy="-2.0" font-size="3.8">3</tspan></text>
<text transform="translate(382.56 299.40) rotate(0.03)" font-size="5.7" text-anchor="middle" stroke-width="0.16">0</text>
<text transform="translate(391.02 299.40) rotate(0.03)" font-size="5.7" text-anchor="middle" stroke-width="0.16">10<tspan dy="-2.0" font-size="3.8">3</tspan></text>
<text transform="translate(404.10 299.40) rotate(0.03)" font-size="5.7" text-anchor="middle" stroke-width="0.16">10<tspan dy="-2.0" font-size="3.8">4</tspan></text>
<text transform="translate(417.44 299.40) rotate(0.03)" font-size="5.7" text-anchor="middle" stroke-width="0.16">10<tspan dy="-2.0" font-size="3.8">5</tspan></text>
<text transform="translate(366.30 329.90) rotate(0.03)" font-size="5.7" text-anchor="end" stroke-width="0.16">10<tspan dy="-2.0" font-size="3.8">5</tspan></text>
<text transform="translate(366.30 337.10) rotate(0.03)" font-size="5.7" text-anchor="end" stroke-width="0.16">10<tspan dy="-2.0" font-size="3.8">4</tspan></text>
<text transform="translate(366.30 344.50) rotate(0.03)" font-size="5.7" text-anchor="end" stroke-width="0.16">10<tspan dy="-2.0" font-size="3.8">3</tspan></text>
<text transform="translate(364.70 353.90) rotate(0.03)" font-size="5.7" text-anchor="end" stroke-width="0.16">0</text>
<text transform="translate(373.58 369.90) rotate(0.03)" font-size="5.7" text-anchor="middle" stroke-width="0.16">-10<tspan dy="-2.0" font-size="3.8">3</tspan></text>
<text transform="translate(385.89 369.90) rotate(0.03)" font-size="5.7" text-anchor="middle" stroke-width="0.16">0</text>
<text transform="translate(397.95 369.90) rotate(0.03)" font-size="5.7" text-anchor="middle" stroke-width="0.16">10<tspan dy="-2.0" font-size="3.8">3</tspan></text>
<text transform="translate(408.21 369.90) rotate(0.03)" font-size="5.7" text-anchor="middle" stroke-width="0.16">10<tspan dy="-2.0" font-size="3.8">4</tspan></text>
<text transform="translate(416.93 369.90) rotate(0.03)" font-size="5.7" text-anchor="middle" stroke-width="0.16">10<tspan dy="-2.0" font-size="3.8">5</tspan></text>
<text transform="translate(372.90 329.20) rotate(0.03) scale(1.08 1)" font-size="4.5" fill="#303030" stroke="#303030" stroke-width="0.1">Q1</text>
<text transform="translate(371.90 334.50) rotate(0.03) scale(1.08 1)" font-size="4.5" fill="#303030" stroke="#303030" stroke-width="0.1">4.93</text>
<text transform="translate(416.60 329.20) rotate(0.03) scale(1.08 1)" font-size="4.5" text-anchor="end" fill="#303030" stroke="#303030" stroke-width="0.1">Q2</text>
<text transform="translate(418.60 334.50) rotate(0.03) scale(1.08 1)" font-size="4.5" text-anchor="end" fill="#303030" stroke="#303030" stroke-width="0.1">0.33</text>
<text transform="translate(416.60 353.00) rotate(0.03) scale(1.08 1)" font-size="4.5" text-anchor="end" fill="#303030" stroke="#303030" stroke-width="0.1">Q3</text>
<text transform="translate(418.60 358.50) rotate(0.03) scale(1.08 1)" font-size="4.5" text-anchor="end" fill="#303030" stroke="#303030" stroke-width="0.1">0.33</text>
<text transform="translate(372.90 353.00) rotate(0.03) scale(1.08 1)" font-size="4.5" fill="#303030" stroke="#303030" stroke-width="0.1">Q4</text>
<text transform="translate(371.90 358.50) rotate(0.03) scale(1.08 1)" font-size="4.5" fill="#303030" stroke="#303030" stroke-width="0.1">94.4</text>
<text transform="translate(366.30 394.40) rotate(0.03)" font-size="5.7" text-anchor="end" stroke-width="0.16">10<tspan dy="-2.0" font-size="3.8">5</tspan></text>
<text transform="translate(366.30 402.40) rotate(0.03)" font-size="5.7" text-anchor="end" stroke-width="0.16">10<tspan dy="-2.0" font-size="3.8">4</tspan></text>
<text transform="translate(366.30 410.20) rotate(0.03)" font-size="5.7" text-anchor="end" stroke-width="0.16">10<tspan dy="-2.0" font-size="3.8">3</tspan></text>
<text transform="translate(364.70 418.20) rotate(0.03)" font-size="5.7" text-anchor="end" stroke-width="0.16">0</text>
<text transform="translate(373.58 434.90) rotate(0.03)" font-size="5.7" text-anchor="middle" stroke-width="0.16">-10<tspan dy="-2.0" font-size="3.8">3</tspan></text>
<text transform="translate(385.89 434.90) rotate(0.03)" font-size="5.7" text-anchor="middle" stroke-width="0.16">0</text>
<text transform="translate(397.95 434.90) rotate(0.03)" font-size="5.7" text-anchor="middle" stroke-width="0.16">10<tspan dy="-2.0" font-size="3.8">3</tspan></text>
<text transform="translate(408.21 434.90) rotate(0.03)" font-size="5.7" text-anchor="middle" stroke-width="0.16">10<tspan dy="-2.0" font-size="3.8">4</tspan></text>
<text transform="translate(416.93 434.90) rotate(0.03)" font-size="5.7" text-anchor="middle" stroke-width="0.16">10<tspan dy="-2.0" font-size="3.8">5</tspan></text>
<text transform="translate(372.90 394.20) rotate(0.03) scale(1.08 1)" font-size="4.5" fill="#303030" stroke="#303030" stroke-width="0.1">Q1</text>
<text transform="translate(371.90 399.50) rotate(0.03) scale(1.08 1)" font-size="4.5" fill="#303030" stroke="#303030" stroke-width="0.1">0.70</text>
<text transform="translate(416.60 394.20) rotate(0.03) scale(1.08 1)" font-size="4.5" text-anchor="end" fill="#303030" stroke="#303030" stroke-width="0.1">Q2</text>
<text transform="translate(418.60 399.50) rotate(0.03) scale(1.08 1)" font-size="4.5" text-anchor="end" fill="#303030" stroke="#303030" stroke-width="0.1">0.16</text>
<text transform="translate(416.60 417.50) rotate(0.03) scale(1.08 1)" font-size="4.5" text-anchor="end" fill="#303030" stroke="#303030" stroke-width="0.1">Q3</text>
<text transform="translate(418.60 423.00) rotate(0.03) scale(1.08 1)" font-size="4.5" text-anchor="end" fill="#303030" stroke="#303030" stroke-width="0.1">2.39</text>
<text transform="translate(372.90 417.50) rotate(0.03) scale(1.08 1)" font-size="4.5" fill="#303030" stroke="#303030" stroke-width="0.1">Q4</text>
<text transform="translate(371.90 423.00) rotate(0.03) scale(1.08 1)" font-size="4.5" fill="#303030" stroke="#303030" stroke-width="0.1">96.8</text>
<text transform="translate(448.80 258.90) rotate(0.03)" font-size="5.7" text-anchor="end" stroke-width="0.16">10<tspan dy="-2.0" font-size="3.8">5</tspan></text>
<text transform="translate(448.80 267.70) rotate(0.03)" font-size="5.7" text-anchor="end" stroke-width="0.16">10<tspan dy="-2.0" font-size="3.8">4</tspan></text>
<text transform="translate(448.80 277.70) rotate(0.03)" font-size="5.7" text-anchor="end" stroke-width="0.16">10<tspan dy="-2.0" font-size="3.8">3</tspan></text>
<text transform="translate(447.20 283.70) rotate(0.03)" font-size="5.7" text-anchor="end" stroke-width="0.16">0</text>
<text transform="translate(448.80 290.10) rotate(0.03)" font-size="5.7" text-anchor="end" stroke-width="0.16">-10<tspan dy="-2.0" font-size="3.8">3</tspan></text>
<text transform="translate(455.90 299.40) rotate(0.03)" font-size="5.7" text-anchor="middle" stroke-width="0.16">-10<tspan dy="-2.0" font-size="3.8">3</tspan></text>
<text transform="translate(464.35 299.40) rotate(0.03)" font-size="5.7" text-anchor="middle" stroke-width="0.16">0</text>
<text transform="translate(472.32 299.40) rotate(0.03)" font-size="5.7" text-anchor="middle" stroke-width="0.16">10<tspan dy="-2.0" font-size="3.8">3</tspan></text>
<text transform="translate(484.64 299.40) rotate(0.03)" font-size="5.7" text-anchor="middle" stroke-width="0.16">10<tspan dy="-2.0" font-size="3.8">4</tspan></text>
<text transform="translate(497.19 299.40) rotate(0.03)" font-size="5.7" text-anchor="middle" stroke-width="0.16">10<tspan dy="-2.0" font-size="3.8">5</tspan></text>
<text transform="translate(448.80 329.90) rotate(0.03)" font-size="5.7" text-anchor="end" stroke-width="0.16">10<tspan dy="-2.0" font-size="3.8">5</tspan></text>
<text transform="translate(448.80 337.10) rotate(0.03)" font-size="5.7" text-anchor="end" stroke-width="0.16">10<tspan dy="-2.0" font-size="3.8">4</tspan></text>
<text transform="translate(448.80 344.50) rotate(0.03)" font-size="5.7" text-anchor="end" stroke-width="0.16">10<tspan dy="-2.0" font-size="3.8">3</tspan></text>
<text transform="translate(447.20 353.90) rotate(0.03)" font-size="5.7" text-anchor="end" stroke-width="0.16">0</text>
<text transform="translate(455.90 369.90) rotate(0.03)" font-size="5.7" text-anchor="middle" stroke-width="0.16">-10<tspan dy="-2.0" font-size="3.8">3</tspan></text>
<text transform="translate(467.49 369.90) rotate(0.03)" font-size="5.7" text-anchor="middle" stroke-width="0.16">0</text>
<text transform="translate(478.84 369.90) rotate(0.03)" font-size="5.7" text-anchor="middle" stroke-width="0.16">10<tspan dy="-2.0" font-size="3.8">3</tspan></text>
<text transform="translate(488.50 369.90) rotate(0.03)" font-size="5.7" text-anchor="middle" stroke-width="0.16">10<tspan dy="-2.0" font-size="3.8">4</tspan></text>
<text transform="translate(496.71 369.90) rotate(0.03)" font-size="5.7" text-anchor="middle" stroke-width="0.16">10<tspan dy="-2.0" font-size="3.8">5</tspan></text>
<text transform="translate(455.40 329.20) rotate(0.03) scale(1.08 1)" font-size="4.5" fill="#303030" stroke="#303030" stroke-width="0.1">Q1</text>
<text transform="translate(454.40 334.50) rotate(0.03) scale(1.08 1)" font-size="4.5" fill="#303030" stroke="#303030" stroke-width="0.1">2.48</text>
<text transform="translate(496.10 329.20) rotate(0.03) scale(1.08 1)" font-size="4.5" text-anchor="end" fill="#303030" stroke="#303030" stroke-width="0.1">Q2</text>
<text transform="translate(498.10 334.50) rotate(0.03) scale(1.08 1)" font-size="4.5" text-anchor="end" fill="#303030" stroke="#303030" stroke-width="0.1">0.38</text>
<text transform="translate(496.10 353.00) rotate(0.03) scale(1.08 1)" font-size="4.5" text-anchor="end" fill="#303030" stroke="#303030" stroke-width="0.1">Q3</text>
<text transform="translate(498.10 358.50) rotate(0.03) scale(1.08 1)" font-size="4.5" text-anchor="end" fill="#303030" stroke="#303030" stroke-width="0.1">0.69</text>
<text transform="translate(455.40 353.00) rotate(0.03) scale(1.08 1)" font-size="4.5" fill="#303030" stroke="#303030" stroke-width="0.1">Q4</text>
<text transform="translate(454.40 358.50) rotate(0.03) scale(1.08 1)" font-size="4.5" fill="#303030" stroke="#303030" stroke-width="0.1">94.4</text>
<text transform="translate(448.80 394.40) rotate(0.03)" font-size="5.7" text-anchor="end" stroke-width="0.16">10<tspan dy="-2.0" font-size="3.8">5</tspan></text>
<text transform="translate(448.80 402.40) rotate(0.03)" font-size="5.7" text-anchor="end" stroke-width="0.16">10<tspan dy="-2.0" font-size="3.8">4</tspan></text>
<text transform="translate(448.80 410.20) rotate(0.03)" font-size="5.7" text-anchor="end" stroke-width="0.16">10<tspan dy="-2.0" font-size="3.8">3</tspan></text>
<text transform="translate(447.20 418.20) rotate(0.03)" font-size="5.7" text-anchor="end" stroke-width="0.16">0</text>
<text transform="translate(455.90 434.90) rotate(0.03)" font-size="5.7" text-anchor="middle" stroke-width="0.16">-10<tspan dy="-2.0" font-size="3.8">3</tspan></text>
<text transform="translate(467.49 434.90) rotate(0.03)" font-size="5.7" text-anchor="middle" stroke-width="0.16">0</text>
<text transform="translate(478.84 434.90) rotate(0.03)" font-size="5.7" text-anchor="middle" stroke-width="0.16">10<tspan dy="-2.0" font-size="3.8">3</tspan></text>
<text transform="translate(488.50 434.90) rotate(0.03)" font-size="5.7" text-anchor="middle" stroke-width="0.16">10<tspan dy="-2.0" font-size="3.8">4</tspan></text>
<text transform="translate(496.71 434.90) rotate(0.03)" font-size="5.7" text-anchor="middle" stroke-width="0.16">10<tspan dy="-2.0" font-size="3.8">5</tspan></text>
<text transform="translate(455.40 394.20) rotate(0.03) scale(1.08 1)" font-size="4.5" fill="#303030" stroke="#303030" stroke-width="0.1">Q1</text>
<text transform="translate(454.40 399.50) rotate(0.03) scale(1.08 1)" font-size="4.5" fill="#303030" stroke="#303030" stroke-width="0.1">1.23</text>
<text transform="translate(496.10 394.20) rotate(0.03) scale(1.08 1)" font-size="4.5" text-anchor="end" fill="#303030" stroke="#303030" stroke-width="0.1">Q2</text>
<text transform="translate(498.10 399.50) rotate(0.03) scale(1.08 1)" font-size="4.5" text-anchor="end" fill="#303030" stroke="#303030" stroke-width="0.1">0.27</text>
<text transform="translate(496.10 417.50) rotate(0.03) scale(1.08 1)" font-size="4.5" text-anchor="end" fill="#303030" stroke="#303030" stroke-width="0.1">Q3</text>
<text transform="translate(498.10 423.00) rotate(0.03) scale(1.08 1)" font-size="4.5" text-anchor="end" fill="#303030" stroke="#303030" stroke-width="0.1">1.71</text>
<text transform="translate(455.40 417.50) rotate(0.03) scale(1.08 1)" font-size="4.5" fill="#303030" stroke="#303030" stroke-width="0.1">Q4</text>
<text transform="translate(454.40 423.00) rotate(0.03) scale(1.08 1)" font-size="4.5" fill="#303030" stroke="#303030" stroke-width="0.1">96.8</text>
<text transform="translate(265.30 282.00) rotate(-89.97)" font-size="10.6" text-anchor="middle" textLength="12.4" lengthAdjust="spacingAndGlyphs" stroke-width="0.6">CD4</text>
<text transform="translate(265.40 377.50) rotate(-89.97)" font-size="10.4" text-anchor="middle" textLength="20.4" lengthAdjust="spacingAndGlyphs" stroke-width="0.6">CD62L</text>
<text transform="translate(397.30 315.00) rotate(0.03)" font-size="8.8" text-anchor="middle">CD8</text>
<text transform="translate(397.40 450.10) rotate(0.03)" font-size="11" text-anchor="middle" textLength="17.2" lengthAdjust="spacingAndGlyphs" stroke-width="0.55">CCR7</text>
<text transform="translate(65.80 492.50) rotate(0.03)" font-size="8.5" text-anchor="end" stroke-width="0.15">80</text>
<text transform="translate(65.80 519.50) rotate(0.03)" font-size="8.5" text-anchor="end" stroke-width="0.15">60</text>
<text transform="translate(65.80 546.30) rotate(0.03)" font-size="8.5" text-anchor="end" stroke-width="0.15">40</text>
<text transform="translate(65.80 578.60) rotate(0.03)" font-size="8.5" text-anchor="end" stroke-width="0.15">10</text>
<text transform="translate(65.80 588.80) rotate(0.03)" font-size="8.5" text-anchor="end" stroke-width="0.15">5</text>
<text transform="translate(65.80 599.00) rotate(0.03)" font-size="8.5" text-anchor="end" stroke-width="0.15">0</text>
<text transform="translate(49.00 543.00) rotate(-89.97)" font-size="9" text-anchor="middle" textLength="45.5" lengthAdjust="spacingAndGlyphs" stroke-width="0.45">Percetage (%)</text>
<text transform="translate(97.00 507.10) rotate(0.03)" font-size="8.3" text-anchor="middle" stroke-width="0.12">NS</text>
<text transform="translate(94.50 610.30) rotate(0.03)" font-size="8.5" text-anchor="middle" stroke-width="0.15">IFN-γ</text>
<text transform="translate(146.30 523.60) rotate(0.03)" font-size="8.3" text-anchor="middle" stroke-width="0.12">NS</text>
<text transform="translate(145.00 610.30) rotate(0.03)" font-size="8.5" text-anchor="middle" stroke-width="0.15">TNF-α</text>
<text transform="translate(195.50 567.30) rotate(0.03)" font-size="8.3" text-anchor="middle" stroke-width="0.12">NS</text>
<text transform="translate(195.50 610.30) rotate(0.03)" font-size="8.5" text-anchor="middle" stroke-width="0.15">IL2</text>
<text transform="translate(157.00 487.30) rotate(0.03)" font-size="8.0" stroke-width="0.15">Cas9</text>
<text transform="translate(157.00 498.50) rotate(0.03)" font-size="8.0" stroke-width="0.15"><tspan font-style="italic">NR3C1</tspan> KO</text>
<text transform="translate(157.00 510.00) rotate(0.03)" font-size="8.0" stroke-width="0.15"><tspan font-style="italic">NR3C1</tspan> KO + Dexa</text>
<text transform="translate(145.50 624.60) rotate(0.03)" font-size="11.2" text-anchor="middle" textLength="13" lengthAdjust="spacingAndGlyphs" stroke-width="0.55">CD8</text>
<text transform="translate(282.80 490.00) rotate(0.03)" font-size="8.5" text-anchor="end" stroke-width="0.15">50</text>
<text transform="translate(282.80 500.30) rotate(0.03)" font-size="8.5" text-anchor="end" stroke-width="0.15">45</text>
<text transform="translate(282.80 510.30) rotate(0.03)" font-size="8.5" text-anchor="end" stroke-width="0.15">40</text>
<text transform="translate(282.80 520.50) rotate(0.03)" font-size="8.5" text-anchor="end" stroke-width="0.15">35</text>
<text transform="translate(282.80 530.50) rotate(0.03)" font-size="8.5" text-anchor="end" stroke-width="0.15">30</text>
<text transform="translate(282.80 540.80) rotate(0.03)" font-size="8.5" text-anchor="end" stroke-width="0.15">25</text>
<text transform="translate(282.80 548.80) rotate(0.03)" font-size="8.5" text-anchor="end" stroke-width="0.15">15</text>
<text transform="translate(282.80 565.80) rotate(0.03)" font-size="8.5" text-anchor="end" stroke-width="0.15">10</text>
<text transform="translate(282.80 582.50) rotate(0.03)" font-size="8.5" text-anchor="end" stroke-width="0.15">5</text>
<text transform="translate(282.80 599.00) rotate(0.03)" font-size="8.5" text-anchor="end" stroke-width="0.15">0</text>
<text transform="translate(266.00 542.00) rotate(-89.97)" font-size="9" text-anchor="middle" textLength="48.5" lengthAdjust="spacingAndGlyphs" stroke-width="0.45">Percentage (%)</text>
<text transform="translate(312.50 483.60) rotate(0.03)" font-size="8.3" text-anchor="middle" stroke-width="0.12">NS</text>
<text transform="translate(311.30 610.30) rotate(0.03)" font-size="8.5" text-anchor="middle" stroke-width="0.15">IFN-γ</text>
<text transform="translate(361.30 501.80) rotate(0.03)" font-size="8.3" text-anchor="middle" stroke-width="0.12">NS</text>
<text transform="translate(359.30 610.30) rotate(0.03)" font-size="8.5" text-anchor="middle" stroke-width="0.15">TNF-α</text>
<text transform="translate(409.50 549.30) rotate(0.03)" font-size="8.3" text-anchor="middle" stroke-width="0.12">NS</text>
<text transform="translate(407.50 610.30) rotate(0.03)" font-size="8.5" text-anchor="middle" stroke-width="0.15">IL2</text>
<text transform="translate(403.80 487.30) rotate(0.03)" font-size="8.0" stroke-width="0.15">Cas9</text>
<text transform="translate(403.80 498.50) rotate(0.03)" font-size="8.0" stroke-width="0.15"><tspan font-style="italic">NR3C1</tspan> KO</text>
<text transform="translate(403.80 510.00) rotate(0.03)" font-size="8.0" stroke-width="0.15"><tspan font-style="italic">NR3C1</tspan> KO + Dexa</text>
<text transform="translate(359.50 624.60) rotate(0.03)" font-size="11.2" text-anchor="middle" textLength="13" lengthAdjust="spacingAndGlyphs" stroke-width="0.55">CD4</text>
</g>
<g fill="#000">
<rect x="0" y="0" width="520" height="0.95"/>
<rect x="0" y="0" width="1.4" height="632"/>
<rect x="518.95" y="0" width="1.05" height="632"/>
<rect x="0" y="630.8" width="520" height="1.2"/>
</g>
</svg>
</body>
</html>
